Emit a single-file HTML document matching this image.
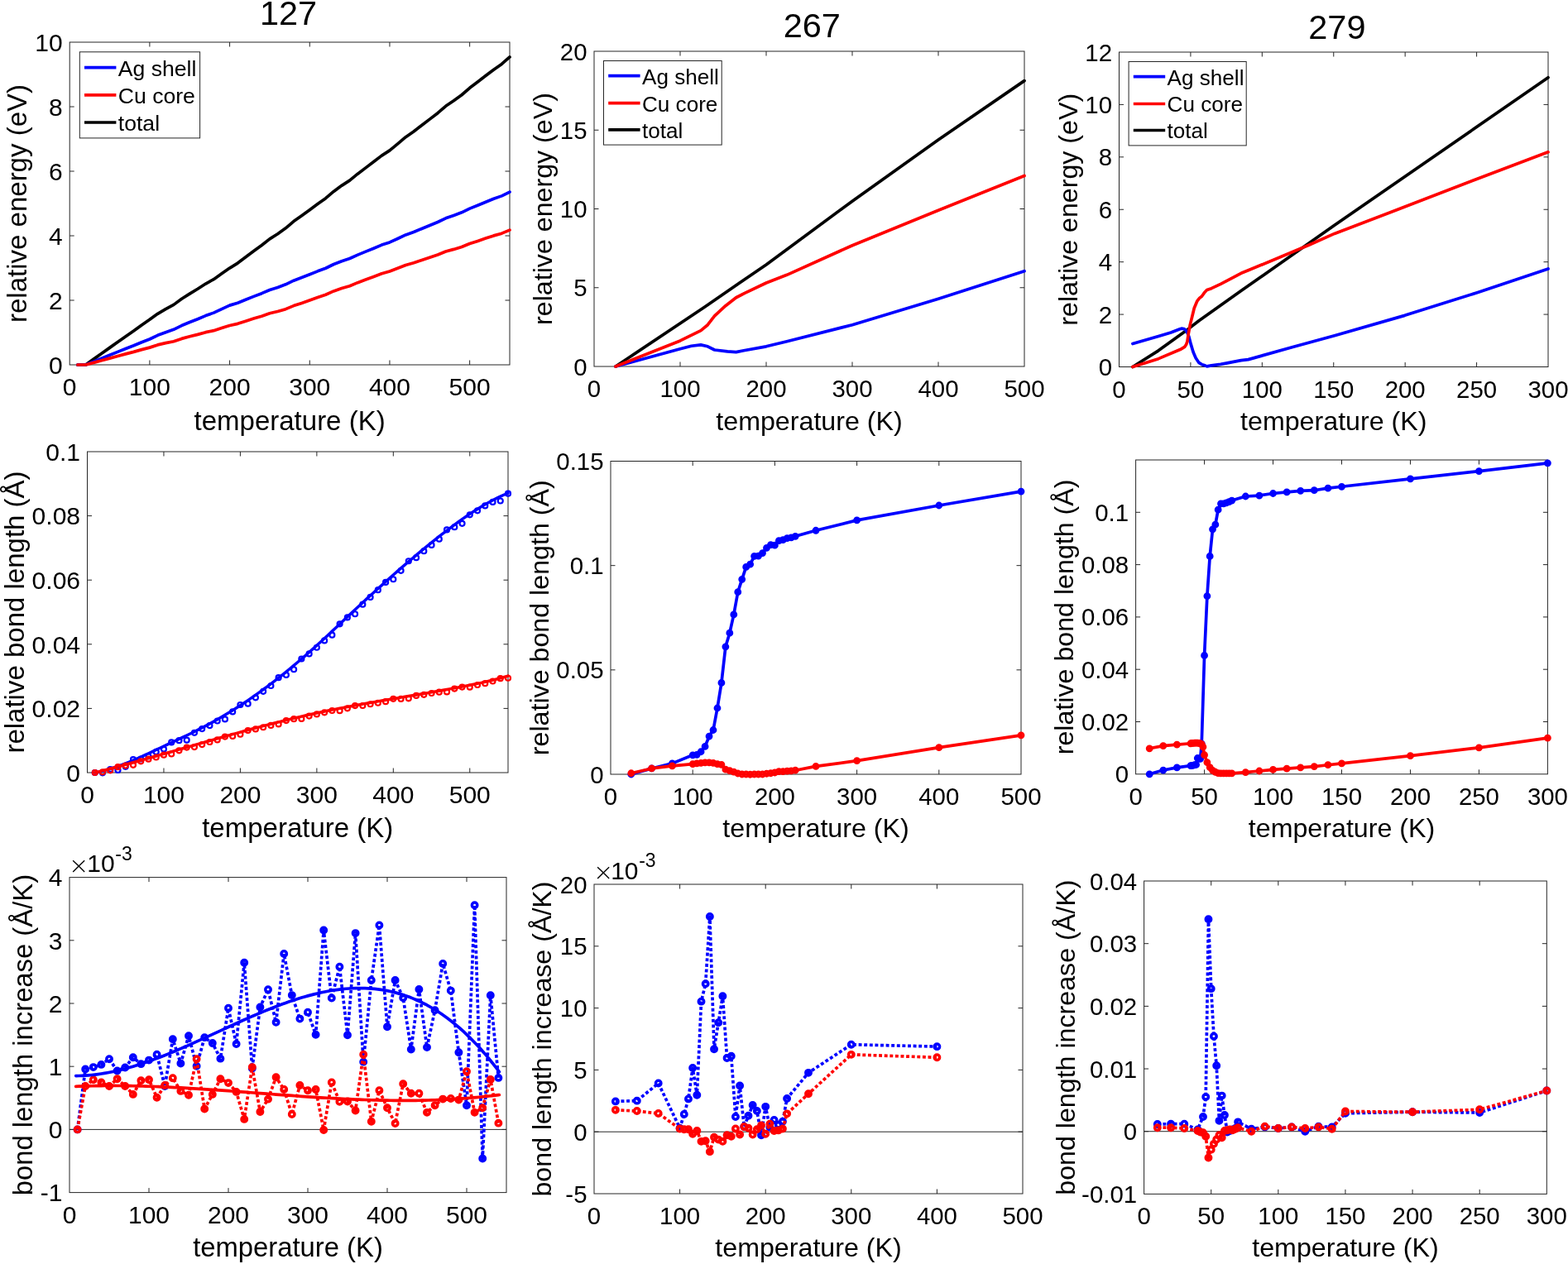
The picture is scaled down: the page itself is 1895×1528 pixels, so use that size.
<!DOCTYPE html><html><head><meta charset="utf-8"><title>Figure</title>
<style>html,body{margin:0;padding:0;background:#fff;}svg{display:block;}text{font-family:'Liberation Sans', Arial, Helvetica, sans-serif;fill:#000;}</style></head><body>
<svg width="1895" height="1528" viewBox="0 0 1895 1528">
<rect width="1895" height="1528" fill="#fff"/>
<defs>
<clipPath id="c1"><rect x="84.2" y="51" width="531.8" height="390"/></clipPath>
<clipPath id="c2"><rect x="718" y="62" width="520" height="381"/></clipPath>
<clipPath id="c3"><rect x="1352.5" y="63" width="518.5" height="380.5"/></clipPath>
<clipPath id="c4"><rect x="105.5" y="546" width="508.5" height="388"/></clipPath>
<clipPath id="c5"><rect x="738" y="557.5" width="496" height="378.5"/></clipPath>
<clipPath id="c6"><rect x="1372.6" y="556" width="497.8" height="379.8"/></clipPath>
<clipPath id="c7"><rect x="84" y="1060.6" width="528" height="381"/></clipPath>
<clipPath id="c8"><rect x="718" y="1069" width="518" height="374"/></clipPath>
<clipPath id="c9"><rect x="1382.6" y="1065" width="486.7" height="378.4"/></clipPath>
</defs>
<path d="M180.89 441V435.5M180.89 51V56.5M277.58 441V435.5M277.58 51V56.5M374.27 441V435.5M374.27 51V56.5M470.96 441V435.5M470.96 51V56.5M567.65 441V435.5M567.65 51V56.5M84.2 363H89.7M616 363H610.5M84.2 285H89.7M616 285H610.5M84.2 207H89.7M616 207H610.5M84.2 129H89.7M616 129H610.5" stroke="#262626" stroke-width="1" fill="none"/>
<rect x="84.2" y="51" width="531.8" height="390" fill="none" stroke="#262626" stroke-width="1"/>
<g font-size="30">
<text x="84.2" y="478.41" text-anchor="middle">0</text>
<text x="180.89" y="478.41" text-anchor="middle">100</text>
<text x="277.58" y="478.41" text-anchor="middle">200</text>
<text x="374.27" y="478.41" text-anchor="middle">300</text>
<text x="470.96" y="478.41" text-anchor="middle">400</text>
<text x="567.65" y="478.41" text-anchor="middle">500</text>
<text x="75.7" y="451.8" text-anchor="end">0</text>
<text x="75.7" y="373.8" text-anchor="end">2</text>
<text x="75.7" y="295.8" text-anchor="end">4</text>
<text x="75.7" y="217.8" text-anchor="end">6</text>
<text x="75.7" y="139.8" text-anchor="end">8</text>
<text x="75.7" y="61.8" text-anchor="end">10</text>
</g>
<text x="350.1" y="519.5" font-size="33" text-anchor="middle">temperature (K)</text>
<text x="32.4" y="246" font-size="33" text-anchor="middle" transform="rotate(-90 32.4 246)">relative energy (eV)</text>
<text x="348.5" y="29.8" font-size="41.5" text-anchor="middle">127</text>
<polyline points="93.87,441 103.54,441 113.21,434.13 122.88,427.25 132.55,420.38 142.21,413.5 151.88,406.66 161.55,400.01 171.22,392.92 180.89,386.27 190.56,379.3 200.23,373.64 209.9,368.38 219.57,361.3 229.24,355.15 238.91,349.25 248.57,343.01 258.24,337.64 267.91,330.78 277.58,324.09 287.25,318.1 296.92,310.83 306.59,303.56 316.26,296.51 325.93,288.84 335.6,282.7 345.27,275.83 354.93,267.58 364.6,260.78 374.27,253.69 383.94,246.48 393.61,239.66 403.28,231.39 412.95,224.33 422.62,218.09 432.29,210.19 441.96,202.89 451.63,195.59 461.29,188.15 470.96,181.92 480.63,173.92 490.3,165.67 499.97,159.04 509.64,151.51 519.31,144.12 528.98,136.68 538.65,128.31 548.32,121.69 557.99,114.73 567.65,106.33 577.32,99.09 586.99,91.55 596.66,84.23 606.33,77.48 616,68.97" fill="none" stroke="#000000" stroke-width="3.7" stroke-linejoin="round" stroke-linecap="round"/>
<polyline points="93.87,441 103.54,441 113.21,437.1 122.88,433.2 132.55,429.3 142.21,425.4 151.88,421.52 161.55,417.79 171.22,413.73 180.89,409.99 190.56,405.34 200.23,401.67 209.9,398.31 219.57,393.57 229.24,389.53 238.91,385.68 248.57,381.58 258.24,378.13 267.91,373.55 277.58,369.11 287.25,366.18 296.92,362.29 306.59,358.39 316.26,354.67 325.93,350.47 335.6,347.43 345.27,343.84 354.93,339.18 364.6,335.58 374.27,331.76 383.94,327.85 393.61,324.23 403.28,319.52 412.95,315.73 422.62,312.54 432.29,308.12 441.96,304.14 451.63,300.17 461.29,296.08 470.96,292.91 480.63,288.5 490.3,283.9 499.97,280.52 509.64,276.47 519.31,272.52 528.98,268.53 538.65,263.85 548.32,260.47 557.99,256.85 567.65,252.14 577.32,248.3 586.99,244.24 596.66,240.34 606.33,236.87 616,232.08" fill="none" stroke="#0000ff" stroke-width="3.7" stroke-linejoin="round" stroke-linecap="round"/>
<polyline points="93.87,441 103.54,441 113.21,438.37 122.88,435.74 132.55,433.1 142.21,430.47 151.88,427.86 161.55,425.4 171.22,422.6 180.89,420.13 190.56,416.91 200.23,414.66 209.9,412.72 219.57,409.4 229.24,406.79 238.91,404.36 248.57,401.68 258.24,399.66 267.91,396.51 277.58,393.49 287.25,391.34 296.92,388.22 306.59,385.11 316.26,382.16 325.93,378.75 335.6,376.49 345.27,373.67 354.93,369.6 364.6,366.39 374.27,362.96 383.94,359.44 393.61,356.21 403.28,351.89 412.95,348.49 422.62,345.69 432.29,341.66 441.96,338.07 451.63,334.49 461.29,330.79 470.96,328.01 480.63,324.33 490.3,320.46 499.97,317.8 509.64,314.48 519.31,311.26 528.98,308 538.65,304.04 548.32,301.4 557.99,298.5 567.65,294.52 577.32,291.4 586.99,288.07 596.66,284.9 606.33,282.16 616,278.1" fill="none" stroke="#ff0000" stroke-width="3.7" stroke-linejoin="round" stroke-linecap="round"/>
<rect x="96.3" y="62.8" width="145.3" height="104.1" fill="#fff" stroke="#262626" stroke-width="1"/>
<line x1="102" y1="81.6" x2="140.4" y2="81.6" stroke="#0000ff" stroke-width="3.7"/>
<text x="142.8" y="91.7" font-size="26.6">Ag shell</text>
<line x1="102" y1="114.8" x2="140.4" y2="114.8" stroke="#ff0000" stroke-width="3.7"/>
<text x="142.8" y="124.9" font-size="26.6">Cu core</text>
<line x1="102" y1="148" x2="140.4" y2="148" stroke="#000000" stroke-width="3.7"/>
<text x="142.8" y="158.1" font-size="26.6">total</text>
<path d="M822 443V437.5M822 62V67.5M926 443V437.5M926 62V67.5M1030 443V437.5M1030 62V67.5M1134 443V437.5M1134 62V67.5M718 347.75H723.5M1238 347.75H1232.5M718 252.5H723.5M1238 252.5H1232.5M718 157.25H723.5M1238 157.25H1232.5" stroke="#262626" stroke-width="1" fill="none"/>
<rect x="718" y="62" width="520" height="381" fill="none" stroke="#262626" stroke-width="1"/>
<g font-size="29.4">
<text x="718" y="480" text-anchor="middle">0</text>
<text x="822" y="480" text-anchor="middle">100</text>
<text x="926" y="480" text-anchor="middle">200</text>
<text x="1030" y="480" text-anchor="middle">300</text>
<text x="1134" y="480" text-anchor="middle">400</text>
<text x="1238" y="480" text-anchor="middle">500</text>
<text x="709.5" y="453.58" text-anchor="end">0</text>
<text x="709.5" y="358.33" text-anchor="end">5</text>
<text x="709.5" y="263.08" text-anchor="end">10</text>
<text x="709.5" y="167.83" text-anchor="end">15</text>
<text x="709.5" y="72.58" text-anchor="end">20</text>
</g>
<text x="978" y="519.6" font-size="32.2" text-anchor="middle">temperature (K)</text>
<text x="667.2" y="252.5" font-size="32.2" text-anchor="middle" transform="rotate(-90 667.2 252.5)">relative energy (eV)</text>
<text x="981.3" y="45" font-size="41.5" text-anchor="middle">267</text>
<polyline points="744,443 852.16,370.8 893.76,342.03 926,319.94 1030,243.17 1134,169.06 1238,97.62" fill="none" stroke="#000000" stroke-width="3.7" stroke-linejoin="round" stroke-linecap="round"/>
<polyline points="744,443 822,421.66 835.52,418.24 846.96,416.9 855.28,418.81 863.6,423 879.2,424.9 889.6,425.66 898.96,423.76 926,418.81 950.96,412.71 1030,392.71 1134,361.28 1238,327.75" fill="none" stroke="#0000ff" stroke-width="3.7" stroke-linejoin="round" stroke-linecap="round"/>
<polyline points="744,443 822,411.95 846.96,399.57 855.28,392.71 863.6,381.85 877.12,369.47 889.6,359.75 900,354.42 926,342.03 950.96,332.32 1030,296.7 1134,254.21 1238,212.5" fill="none" stroke="#ff0000" stroke-width="3.7" stroke-linejoin="round" stroke-linecap="round"/>
<rect x="729.5" y="73.5" width="142.7" height="101.6" fill="#fff" stroke="#262626" stroke-width="1"/>
<line x1="735.2" y1="91.6" x2="773.6" y2="91.6" stroke="#0000ff" stroke-width="3.7"/>
<text x="776" y="101.51" font-size="26.1">Ag shell</text>
<line x1="735.2" y1="124.6" x2="773.6" y2="124.6" stroke="#ff0000" stroke-width="3.7"/>
<text x="776" y="134.51" font-size="26.1">Cu core</text>
<line x1="735.2" y1="156.9" x2="773.6" y2="156.9" stroke="#000000" stroke-width="3.7"/>
<text x="776" y="166.81" font-size="26.1">total</text>
<path d="M1438.92 443.5V438M1438.92 63V68.5M1525.33 443.5V438M1525.33 63V68.5M1611.75 443.5V438M1611.75 63V68.5M1698.17 443.5V438M1698.17 63V68.5M1784.58 443.5V438M1784.58 63V68.5M1352.5 380.08H1358M1871 380.08H1865.5M1352.5 316.67H1358M1871 316.67H1865.5M1352.5 253.25H1358M1871 253.25H1865.5M1352.5 189.83H1358M1871 189.83H1865.5M1352.5 126.42H1358M1871 126.42H1865.5" stroke="#262626" stroke-width="1" fill="none"/>
<rect x="1352.5" y="63" width="518.5" height="380.5" fill="none" stroke="#262626" stroke-width="1"/>
<g font-size="29.4">
<text x="1352.5" y="480.5" text-anchor="middle">0</text>
<text x="1438.92" y="480.5" text-anchor="middle">50</text>
<text x="1525.33" y="480.5" text-anchor="middle">100</text>
<text x="1611.75" y="480.5" text-anchor="middle">150</text>
<text x="1698.17" y="480.5" text-anchor="middle">200</text>
<text x="1784.58" y="480.5" text-anchor="middle">250</text>
<text x="1871" y="480.5" text-anchor="middle">300</text>
<text x="1344" y="454.08" text-anchor="end">0</text>
<text x="1344" y="390.67" text-anchor="end">2</text>
<text x="1344" y="327.25" text-anchor="end">4</text>
<text x="1344" y="263.83" text-anchor="end">6</text>
<text x="1344" y="200.42" text-anchor="end">8</text>
<text x="1344" y="137" text-anchor="end">10</text>
<text x="1344" y="73.58" text-anchor="end">12</text>
</g>
<text x="1611.75" y="519.6" font-size="32.2" text-anchor="middle">temperature (K)</text>
<text x="1302.2" y="253.25" font-size="32.2" text-anchor="middle" transform="rotate(-90 1302.2 253.25)">relative energy (eV)</text>
<text x="1615.9" y="46.9" font-size="41.5" text-anchor="middle">279</text>
<polyline points="1368.92,443.5 1400.03,423.84 1435.46,398.16 1448.94,387.69 1499.93,351.55 1612.79,272.27 1871,93.76" fill="none" stroke="#000000" stroke-width="3.7" stroke-linejoin="round" stroke-linecap="round"/>
<polyline points="1368.92,415.6 1400.03,406.4 1415.07,401.96 1425.95,397.84 1427.86,397.21 1430.97,397.52 1433.04,399.11 1434.6,401.33 1436.84,407.04 1439.09,415.6 1442.03,425.43 1445.14,432.72 1448.94,438.43 1452.57,440.65 1455.34,441.6 1458.62,442.87 1463.98,441.91 1475.21,440.33 1499.93,435.57 1508.57,434.62 1560.59,420.04 1612.79,405.77 1697.65,381.35 1785.27,353.77 1871,324.91" fill="none" stroke="#0000ff" stroke-width="3.7" stroke-linejoin="round" stroke-linecap="round"/>
<polyline points="1368.92,443.5 1400.03,433.67 1426.3,422.57 1431.66,419.4 1433.73,416.23 1434.94,412.74 1436.15,404.18 1438.4,392.13 1440.64,383.25 1443.24,372.47 1446.69,364.23 1449.63,360.42 1452.4,358.2 1455.34,354.08 1458.62,350.59 1463.98,348.69 1475.21,343.3 1499.93,330.3 1508.57,326.81 1582.37,296.06 1612.79,282.42 1697.65,250.08 1785.27,216.15 1871,183.81" fill="none" stroke="#ff0000" stroke-width="3.7" stroke-linejoin="round" stroke-linecap="round"/>
<rect x="1364.1" y="74.5" width="142.1" height="101.4" fill="#fff" stroke="#262626" stroke-width="1"/>
<line x1="1369.8" y1="92.6" x2="1408.2" y2="92.6" stroke="#0000ff" stroke-width="3.7"/>
<text x="1410.6" y="102.51" font-size="26.1">Ag shell</text>
<line x1="1369.8" y1="125.5" x2="1408.2" y2="125.5" stroke="#ff0000" stroke-width="3.7"/>
<text x="1410.6" y="135.41" font-size="26.1">Cu core</text>
<line x1="1369.8" y1="157.5" x2="1408.2" y2="157.5" stroke="#000000" stroke-width="3.7"/>
<text x="1410.6" y="167.41" font-size="26.1">total</text>
<path d="M197.95 934V928.5M197.95 546V551.5M290.41 934V928.5M290.41 546V551.5M382.86 934V928.5M382.86 546V551.5M475.32 934V928.5M475.32 546V551.5M567.77 934V928.5M567.77 546V551.5M105.5 856.4H111M614 856.4H608.5M105.5 778.8H111M614 778.8H608.5M105.5 701.2H111M614 701.2H608.5M105.5 623.6H111M614 623.6H608.5" stroke="#262626" stroke-width="1" fill="none"/>
<rect x="105.5" y="546" width="508.5" height="388" fill="none" stroke="#262626" stroke-width="1"/>
<g font-size="30">
<text x="105.5" y="971.41" text-anchor="middle">0</text>
<text x="197.95" y="971.41" text-anchor="middle">100</text>
<text x="290.41" y="971.41" text-anchor="middle">200</text>
<text x="382.86" y="971.41" text-anchor="middle">300</text>
<text x="475.32" y="971.41" text-anchor="middle">400</text>
<text x="567.77" y="971.41" text-anchor="middle">500</text>
<text x="97" y="944.8" text-anchor="end">0</text>
<text x="97" y="867.2" text-anchor="end">0.02</text>
<text x="97" y="789.6" text-anchor="end">0.04</text>
<text x="97" y="712" text-anchor="end">0.06</text>
<text x="97" y="634.4" text-anchor="end">0.08</text>
<text x="97" y="556.8" text-anchor="end">0.1</text>
</g>
<text x="359.75" y="1011.7" font-size="33" text-anchor="middle">temperature (K)</text>
<text x="29.4" y="740" font-size="33" text-anchor="middle" transform="rotate(-90 29.4 740)">relative bond length (&#197;)</text>
<circle cx="114.75" cy="934" r="3" fill="none" stroke="#0000ff" stroke-width="2.2"/>
<circle cx="123.99" cy="934.31" r="3" fill="none" stroke="#0000ff" stroke-width="2.2"/>
<circle cx="133.24" cy="930.18" r="3" fill="none" stroke="#0000ff" stroke-width="2.2"/>
<circle cx="142.48" cy="930.9" r="3" fill="none" stroke="#0000ff" stroke-width="2.2"/>
<circle cx="151.73" cy="926.86" r="3" fill="none" stroke="#0000ff" stroke-width="2.2"/>
<circle cx="160.97" cy="918.2" r="3" fill="none" stroke="#0000ff" stroke-width="2.2"/>
<circle cx="170.22" cy="917.49" r="3" fill="none" stroke="#0000ff" stroke-width="2.2"/>
<circle cx="179.46" cy="914.25" r="3" fill="none" stroke="#0000ff" stroke-width="2.2"/>
<circle cx="188.71" cy="908.94" r="3" fill="none" stroke="#0000ff" stroke-width="2.2"/>
<circle cx="197.95" cy="905.54" r="3" fill="none" stroke="#0000ff" stroke-width="2.2"/>
<circle cx="207.2" cy="897.43" r="3" fill="none" stroke="#0000ff" stroke-width="2.2"/>
<circle cx="216.45" cy="895.15" r="3" fill="none" stroke="#0000ff" stroke-width="2.2"/>
<circle cx="225.69" cy="894.63" r="3" fill="none" stroke="#0000ff" stroke-width="2.2"/>
<circle cx="234.94" cy="885.83" r="3" fill="none" stroke="#0000ff" stroke-width="2.2"/>
<circle cx="244.18" cy="881.03" r="3" fill="none" stroke="#0000ff" stroke-width="2.2"/>
<circle cx="253.43" cy="877.12" r="3" fill="none" stroke="#0000ff" stroke-width="2.2"/>
<circle cx="262.67" cy="871.49" r="3" fill="none" stroke="#0000ff" stroke-width="2.2"/>
<circle cx="271.92" cy="869.46" r="3" fill="none" stroke="#0000ff" stroke-width="2.2"/>
<circle cx="281.16" cy="860.47" r="3" fill="none" stroke="#0000ff" stroke-width="2.2"/>
<circle cx="290.41" cy="852.02" r="3" fill="none" stroke="#0000ff" stroke-width="2.2"/>
<circle cx="299.65" cy="850.69" r="3" fill="none" stroke="#0000ff" stroke-width="2.2"/>
<circle cx="308.9" cy="843.37" r="3" fill="none" stroke="#0000ff" stroke-width="2.2"/>
<circle cx="318.15" cy="835.81" r="3" fill="none" stroke="#0000ff" stroke-width="2.2"/>
<circle cx="327.39" cy="829" r="3" fill="none" stroke="#0000ff" stroke-width="2.2"/>
<circle cx="336.64" cy="819.15" r="3" fill="none" stroke="#0000ff" stroke-width="2.2"/>
<circle cx="345.88" cy="815.95" r="3" fill="none" stroke="#0000ff" stroke-width="2.2"/>
<circle cx="355.13" cy="809.24" r="3" fill="none" stroke="#0000ff" stroke-width="2.2"/>
<circle cx="364.37" cy="796.48" r="3" fill="none" stroke="#0000ff" stroke-width="2.2"/>
<circle cx="373.62" cy="790.38" r="3" fill="none" stroke="#0000ff" stroke-width="2.2"/>
<circle cx="382.86" cy="782.77" r="3" fill="none" stroke="#0000ff" stroke-width="2.2"/>
<circle cx="392.11" cy="774.44" r="3" fill="none" stroke="#0000ff" stroke-width="2.2"/>
<circle cx="401.35" cy="767.68" r="3" fill="none" stroke="#0000ff" stroke-width="2.2"/>
<circle cx="410.6" cy="754.37" r="3" fill="none" stroke="#0000ff" stroke-width="2.2"/>
<circle cx="419.85" cy="746.44" r="3" fill="none" stroke="#0000ff" stroke-width="2.2"/>
<circle cx="429.09" cy="742.23" r="3" fill="none" stroke="#0000ff" stroke-width="2.2"/>
<circle cx="438.34" cy="730.66" r="3" fill="none" stroke="#0000ff" stroke-width="2.2"/>
<circle cx="447.58" cy="721.88" r="3" fill="none" stroke="#0000ff" stroke-width="2.2"/>
<circle cx="456.83" cy="713.19" r="3" fill="none" stroke="#0000ff" stroke-width="2.2"/>
<circle cx="466.07" cy="703.93" r="3" fill="none" stroke="#0000ff" stroke-width="2.2"/>
<circle cx="475.32" cy="700.27" r="3" fill="none" stroke="#0000ff" stroke-width="2.2"/>
<circle cx="484.56" cy="689.78" r="3" fill="none" stroke="#0000ff" stroke-width="2.2"/>
<circle cx="493.81" cy="678.24" r="3" fill="none" stroke="#0000ff" stroke-width="2.2"/>
<circle cx="503.05" cy="674.13" r="3" fill="none" stroke="#0000ff" stroke-width="2.2"/>
<circle cx="512.3" cy="666.15" r="3" fill="none" stroke="#0000ff" stroke-width="2.2"/>
<circle cx="521.55" cy="658.92" r="3" fill="none" stroke="#0000ff" stroke-width="2.2"/>
<circle cx="530.79" cy="651.63" r="3" fill="none" stroke="#0000ff" stroke-width="2.2"/>
<circle cx="540.04" cy="640.41" r="3" fill="none" stroke="#0000ff" stroke-width="2.2"/>
<circle cx="549.28" cy="637.22" r="3" fill="none" stroke="#0000ff" stroke-width="2.2"/>
<circle cx="558.53" cy="632.83" r="3" fill="none" stroke="#0000ff" stroke-width="2.2"/>
<circle cx="567.77" cy="622.32" r="3" fill="none" stroke="#0000ff" stroke-width="2.2"/>
<circle cx="577.02" cy="617.32" r="3" fill="none" stroke="#0000ff" stroke-width="2.2"/>
<circle cx="586.26" cy="611.42" r="3" fill="none" stroke="#0000ff" stroke-width="2.2"/>
<circle cx="595.51" cy="606.95" r="3" fill="none" stroke="#0000ff" stroke-width="2.2"/>
<circle cx="604.75" cy="605.51" r="3" fill="none" stroke="#0000ff" stroke-width="2.2"/>
<circle cx="614" cy="596.72" r="3" fill="none" stroke="#0000ff" stroke-width="2.2"/>
<polyline points="114.75,934 119.37,933.23 123.99,932.12 128.61,930.87 133.24,929.5 137.86,928 142.48,926.4 147.1,924.7 151.73,922.91 156.35,921.04 160.97,919.09 165.6,917.08 170.22,915.02 174.84,912.92 179.46,910.78 184.09,908.62 188.71,906.44 193.33,904.25 197.95,902.07 202.58,899.89 207.2,897.72 211.82,895.56 216.45,893.38 221.07,891.19 225.69,888.97 230.31,886.74 234.94,884.46 239.56,882.15 244.18,879.79 248.8,877.38 253.43,874.91 258.05,872.37 262.67,869.76 267.3,867.09 271.92,864.36 276.54,861.56 281.16,858.7 285.79,855.77 290.41,852.78 295.03,849.72 299.65,846.61 304.28,843.42 308.9,840.18 313.52,836.88 318.15,833.51 322.77,830.08 327.39,826.6 332.01,823.05 336.64,819.44 341.26,815.77 345.88,812.05 350.5,808.26 355.13,804.42 359.75,800.52 364.37,796.57 369,792.56 373.62,788.5 378.24,784.39 382.86,780.23 387.49,776.02 392.11,771.76 396.73,767.47 401.35,763.15 405.98,758.81 410.6,754.46 415.22,750.1 419.85,745.74 424.47,741.38 429.09,737.04 433.71,732.73 438.34,728.43 442.96,724.16 447.58,719.92 452.2,715.69 456.83,711.5 461.45,707.33 466.07,703.18 470.7,699.07 475.32,694.98 479.94,690.91 484.56,686.88 489.19,682.88 493.81,678.91 498.43,674.97 503.05,671.07 507.68,667.2 512.3,663.37 516.92,659.58 521.55,655.83 526.17,652.11 530.79,648.44 535.41,644.83 540.04,641.27 544.66,637.77 549.28,634.33 553.9,630.97 558.53,627.68 563.15,624.48 567.77,621.36 572.4,618.33 577.02,615.4 581.64,612.57 586.26,609.85 590.89,607.23 595.51,604.74 600.13,602.37 604.75,600.12 609.38,598 614,596.03" fill="none" stroke="#0000ff" stroke-width="3.5" stroke-linejoin="round" stroke-linecap="round"/>
<circle cx="114.75" cy="934" r="3" fill="none" stroke="#ff0000" stroke-width="2.2"/>
<circle cx="123.99" cy="933.3" r="3" fill="none" stroke="#ff0000" stroke-width="2.2"/>
<circle cx="133.24" cy="931.31" r="3" fill="none" stroke="#ff0000" stroke-width="2.2"/>
<circle cx="142.48" cy="927.18" r="3" fill="none" stroke="#ff0000" stroke-width="2.2"/>
<circle cx="151.73" cy="925.6" r="3" fill="none" stroke="#ff0000" stroke-width="2.2"/>
<circle cx="160.97" cy="924.79" r="3" fill="none" stroke="#ff0000" stroke-width="2.2"/>
<circle cx="170.22" cy="920.32" r="3" fill="none" stroke="#ff0000" stroke-width="2.2"/>
<circle cx="179.46" cy="917.67" r="3" fill="none" stroke="#ff0000" stroke-width="2.2"/>
<circle cx="188.71" cy="915.49" r="3" fill="none" stroke="#ff0000" stroke-width="2.2"/>
<circle cx="197.95" cy="912.64" r="3" fill="none" stroke="#ff0000" stroke-width="2.2"/>
<circle cx="207.2" cy="911.5" r="3" fill="none" stroke="#ff0000" stroke-width="2.2"/>
<circle cx="216.45" cy="907.37" r="3" fill="none" stroke="#ff0000" stroke-width="2.2"/>
<circle cx="225.69" cy="903.59" r="3" fill="none" stroke="#ff0000" stroke-width="2.2"/>
<circle cx="234.94" cy="903.08" r="3" fill="none" stroke="#ff0000" stroke-width="2.2"/>
<circle cx="244.18" cy="900.03" r="3" fill="none" stroke="#ff0000" stroke-width="2.2"/>
<circle cx="253.43" cy="896.99" r="3" fill="none" stroke="#ff0000" stroke-width="2.2"/>
<circle cx="262.67" cy="894.41" r="3" fill="none" stroke="#ff0000" stroke-width="2.2"/>
<circle cx="271.92" cy="890.61" r="3" fill="none" stroke="#ff0000" stroke-width="2.2"/>
<circle cx="281.16" cy="889.89" r="3" fill="none" stroke="#ff0000" stroke-width="2.2"/>
<circle cx="290.41" cy="887.73" r="3" fill="none" stroke="#ff0000" stroke-width="2.2"/>
<circle cx="299.65" cy="883.02" r="3" fill="none" stroke="#ff0000" stroke-width="2.2"/>
<circle cx="308.9" cy="881.41" r="3" fill="none" stroke="#ff0000" stroke-width="2.2"/>
<circle cx="318.15" cy="879.25" r="3" fill="none" stroke="#ff0000" stroke-width="2.2"/>
<circle cx="327.39" cy="876.91" r="3" fill="none" stroke="#ff0000" stroke-width="2.2"/>
<circle cx="336.64" cy="875.38" r="3" fill="none" stroke="#ff0000" stroke-width="2.2"/>
<circle cx="345.88" cy="871.03" r="3" fill="none" stroke="#ff0000" stroke-width="2.2"/>
<circle cx="355.13" cy="869.14" r="3" fill="none" stroke="#ff0000" stroke-width="2.2"/>
<circle cx="364.37" cy="868.96" r="3" fill="none" stroke="#ff0000" stroke-width="2.2"/>
<circle cx="373.62" cy="865.54" r="3" fill="none" stroke="#ff0000" stroke-width="2.2"/>
<circle cx="382.86" cy="863.38" r="3" fill="none" stroke="#ff0000" stroke-width="2.2"/>
<circle cx="392.11" cy="861.3" r="3" fill="none" stroke="#ff0000" stroke-width="2.2"/>
<circle cx="401.35" cy="858.99" r="3" fill="none" stroke="#ff0000" stroke-width="2.2"/>
<circle cx="410.6" cy="859.18" r="3" fill="none" stroke="#ff0000" stroke-width="2.2"/>
<circle cx="419.85" cy="856.34" r="3" fill="none" stroke="#ff0000" stroke-width="2.2"/>
<circle cx="429.09" cy="853.04" r="3" fill="none" stroke="#ff0000" stroke-width="2.2"/>
<circle cx="438.34" cy="853.01" r="3" fill="none" stroke="#ff0000" stroke-width="2.2"/>
<circle cx="447.58" cy="851.24" r="3" fill="none" stroke="#ff0000" stroke-width="2.2"/>
<circle cx="456.83" cy="849.77" r="3" fill="none" stroke="#ff0000" stroke-width="2.2"/>
<circle cx="466.07" cy="848.22" r="3" fill="none" stroke="#ff0000" stroke-width="2.2"/>
<circle cx="475.32" cy="844.84" r="3" fill="none" stroke="#ff0000" stroke-width="2.2"/>
<circle cx="484.56" cy="844.94" r="3" fill="none" stroke="#ff0000" stroke-width="2.2"/>
<circle cx="493.81" cy="844.37" r="3" fill="none" stroke="#ff0000" stroke-width="2.2"/>
<circle cx="503.05" cy="840.94" r="3" fill="none" stroke="#ff0000" stroke-width="2.2"/>
<circle cx="512.3" cy="839.78" r="3" fill="none" stroke="#ff0000" stroke-width="2.2"/>
<circle cx="521.55" cy="838.02" r="3" fill="none" stroke="#ff0000" stroke-width="2.2"/>
<circle cx="530.79" cy="836.66" r="3" fill="none" stroke="#ff0000" stroke-width="2.2"/>
<circle cx="540.04" cy="836.41" r="3" fill="none" stroke="#ff0000" stroke-width="2.2"/>
<circle cx="549.28" cy="832.62" r="3" fill="none" stroke="#ff0000" stroke-width="2.2"/>
<circle cx="558.53" cy="830.56" r="3" fill="none" stroke="#ff0000" stroke-width="2.2"/>
<circle cx="567.77" cy="830.64" r="3" fill="none" stroke="#ff0000" stroke-width="2.2"/>
<circle cx="577.02" cy="828.02" r="3" fill="none" stroke="#ff0000" stroke-width="2.2"/>
<circle cx="586.26" cy="826.19" r="3" fill="none" stroke="#ff0000" stroke-width="2.2"/>
<circle cx="595.51" cy="823.5" r="3" fill="none" stroke="#ff0000" stroke-width="2.2"/>
<circle cx="604.75" cy="820.18" r="3" fill="none" stroke="#ff0000" stroke-width="2.2"/>
<circle cx="614" cy="819.77" r="3" fill="none" stroke="#ff0000" stroke-width="2.2"/>
<polyline points="114.75,934 119.37,932.86 123.99,931.67 128.61,930.46 133.24,929.25 137.86,928.03 142.48,926.79 147.1,925.55 151.73,924.29 156.35,923.03 160.97,921.76 165.6,920.48 170.22,919.19 174.84,917.9 179.46,916.6 184.09,915.3 188.71,913.99 193.33,912.67 197.95,911.36 202.58,910.04 207.2,908.71 211.82,907.39 216.45,906.06 221.07,904.73 225.69,903.4 230.31,902.07 234.94,900.75 239.56,899.42 244.18,898.1 248.8,896.77 253.43,895.45 258.05,894.14 262.67,892.83 267.3,891.52 271.92,890.22 276.54,888.92 281.16,887.63 285.79,886.35 290.41,885.07 295.03,883.81 299.65,882.55 304.28,881.3 308.9,880.06 313.52,878.83 318.15,877.61 322.77,876.4 327.39,875.2 332.01,874.02 336.64,872.85 341.26,871.69 345.88,870.55 350.5,869.42 355.13,868.31 359.75,867.22 364.37,866.14 369,865.07 373.62,864.03 378.24,863 382.86,861.99 387.49,861 392.11,860.03 396.73,859.08 401.35,858.14 405.98,857.22 410.6,856.31 415.22,855.42 419.85,854.54 424.47,853.67 429.09,852.82 433.71,851.97 438.34,851.14 442.96,850.31 447.58,849.49 452.2,848.68 456.83,847.88 461.45,847.08 466.07,846.29 470.7,845.5 475.32,844.71 479.94,843.92 484.56,843.14 489.19,842.35 493.81,841.57 498.43,840.78 503.05,839.99 507.68,839.2 512.3,838.41 516.92,837.61 521.55,836.8 526.17,835.99 530.79,835.17 535.41,834.34 540.04,833.5 544.66,832.65 549.28,831.79 553.9,830.92 558.53,830.04 563.15,829.14 567.77,828.23 572.4,827.3 577.02,826.36 581.64,825.38 586.26,824.36 590.89,823.3 595.51,822.19 600.13,821.02 604.75,819.79 609.38,818.48 614,817.1" fill="none" stroke="#ff0000" stroke-width="3.5" stroke-linejoin="round" stroke-linecap="round"/>
<path d="M837.2 936V930.5M837.2 557.5V563M936.4 936V930.5M936.4 557.5V563M1035.6 936V930.5M1035.6 557.5V563M1134.8 936V930.5M1134.8 557.5V563M738 809.83H743.5M1234 809.83H1228.5M738 683.67H743.5M1234 683.67H1228.5" stroke="#262626" stroke-width="1" fill="none"/>
<rect x="738" y="557.5" width="496" height="378.5" fill="none" stroke="#262626" stroke-width="1"/>
<g font-size="29.4">
<text x="738" y="973" text-anchor="middle">0</text>
<text x="837.2" y="973" text-anchor="middle">100</text>
<text x="936.4" y="973" text-anchor="middle">200</text>
<text x="1035.6" y="973" text-anchor="middle">300</text>
<text x="1134.8" y="973" text-anchor="middle">400</text>
<text x="1234" y="973" text-anchor="middle">500</text>
<text x="729.5" y="946.58" text-anchor="end">0</text>
<text x="729.5" y="820.42" text-anchor="end">0.05</text>
<text x="729.5" y="694.25" text-anchor="end">0.1</text>
<text x="729.5" y="568.08" text-anchor="end">0.15</text>
</g>
<text x="986" y="1012.2" font-size="32.2" text-anchor="middle">temperature (K)</text>
<text x="662.6" y="746.75" font-size="32.2" text-anchor="middle" transform="rotate(-90 662.6 746.75)">relative bond length (&#197;)</text>
<polyline points="762.8,936 787.6,928.93 812.4,922.88 837.2,912.79 842.16,912.28 847.12,908.75 852.08,902.44 857.04,890.08 862,882.51 866.96,856.01 871.92,825.48 876.88,781.82 881.84,765.17 886.8,742.97 891.76,715.71 896.72,700.32 901.68,685.43 906.64,682.15 911.6,672.31 916.56,672.06 921.52,668.53 926.48,662.47 931.44,658.69 936.4,659.19 941.36,653.64 946.32,652.63 951.28,650.61 956.24,649.85 961.2,648.34 986,641.27 1035.6,628.91 1134.8,610.99 1234,594.09" fill="none" stroke="#0000ff" stroke-width="3.7" stroke-linejoin="round" stroke-linecap="round"/>
<circle cx="762.8" cy="936" r="2.9" fill="none" stroke="#0000ff" stroke-width="3"/>
<circle cx="787.6" cy="928.93" r="2.9" fill="none" stroke="#0000ff" stroke-width="3"/>
<circle cx="812.4" cy="922.88" r="2.9" fill="none" stroke="#0000ff" stroke-width="3"/>
<circle cx="837.2" cy="912.79" r="2.9" fill="none" stroke="#0000ff" stroke-width="3"/>
<circle cx="842.16" cy="912.28" r="2.9" fill="none" stroke="#0000ff" stroke-width="3"/>
<circle cx="847.12" cy="908.75" r="2.9" fill="none" stroke="#0000ff" stroke-width="3"/>
<circle cx="852.08" cy="902.44" r="2.9" fill="none" stroke="#0000ff" stroke-width="3"/>
<circle cx="857.04" cy="890.08" r="2.9" fill="none" stroke="#0000ff" stroke-width="3"/>
<circle cx="862" cy="882.51" r="2.9" fill="none" stroke="#0000ff" stroke-width="3"/>
<circle cx="866.96" cy="856.01" r="2.9" fill="none" stroke="#0000ff" stroke-width="3"/>
<circle cx="871.92" cy="825.48" r="2.9" fill="none" stroke="#0000ff" stroke-width="3"/>
<circle cx="876.88" cy="781.82" r="2.9" fill="none" stroke="#0000ff" stroke-width="3"/>
<circle cx="881.84" cy="765.17" r="2.9" fill="none" stroke="#0000ff" stroke-width="3"/>
<circle cx="886.8" cy="742.97" r="2.9" fill="none" stroke="#0000ff" stroke-width="3"/>
<circle cx="891.76" cy="715.71" r="2.9" fill="none" stroke="#0000ff" stroke-width="3"/>
<circle cx="896.72" cy="700.32" r="2.9" fill="none" stroke="#0000ff" stroke-width="3"/>
<circle cx="901.68" cy="685.43" r="2.9" fill="none" stroke="#0000ff" stroke-width="3"/>
<circle cx="906.64" cy="682.15" r="2.9" fill="none" stroke="#0000ff" stroke-width="3"/>
<circle cx="911.6" cy="672.31" r="2.9" fill="none" stroke="#0000ff" stroke-width="3"/>
<circle cx="916.56" cy="672.06" r="2.9" fill="none" stroke="#0000ff" stroke-width="3"/>
<circle cx="921.52" cy="668.53" r="2.9" fill="none" stroke="#0000ff" stroke-width="3"/>
<circle cx="926.48" cy="662.47" r="2.9" fill="none" stroke="#0000ff" stroke-width="3"/>
<circle cx="931.44" cy="658.69" r="2.9" fill="none" stroke="#0000ff" stroke-width="3"/>
<circle cx="936.4" cy="659.19" r="2.9" fill="none" stroke="#0000ff" stroke-width="3"/>
<circle cx="941.36" cy="653.64" r="2.9" fill="none" stroke="#0000ff" stroke-width="3"/>
<circle cx="946.32" cy="652.63" r="2.9" fill="none" stroke="#0000ff" stroke-width="3"/>
<circle cx="951.28" cy="650.61" r="2.9" fill="none" stroke="#0000ff" stroke-width="3"/>
<circle cx="956.24" cy="649.85" r="2.9" fill="none" stroke="#0000ff" stroke-width="3"/>
<circle cx="961.2" cy="648.34" r="2.9" fill="none" stroke="#0000ff" stroke-width="3"/>
<circle cx="986" cy="641.27" r="2.9" fill="none" stroke="#0000ff" stroke-width="3"/>
<circle cx="1035.6" cy="628.91" r="2.9" fill="none" stroke="#0000ff" stroke-width="3"/>
<circle cx="1134.8" cy="610.99" r="2.9" fill="none" stroke="#0000ff" stroke-width="3"/>
<circle cx="1234" cy="594.09" r="2.9" fill="none" stroke="#0000ff" stroke-width="3"/>
<polyline points="762.8,934.74 787.6,928.93 812.4,925.91 837.2,923.64 842.16,922.88 847.12,922.37 852.08,921.87 857.04,921.87 862,922.37 866.96,923.64 871.92,924.39 876.88,930.2 881.84,931.71 886.8,933.22 891.76,934.99 896.72,936 901.68,936 906.64,936.25 911.6,936 916.56,936 921.52,936 926.48,935.24 931.44,934.74 936.4,933.98 941.36,932.72 946.32,932.72 951.28,932.22 956.24,931.96 961.2,931.21 986,926.41 1035.6,919.6 1134.8,903.7 1234,888.81" fill="none" stroke="#ff0000" stroke-width="3.7" stroke-linejoin="round" stroke-linecap="round"/>
<circle cx="762.8" cy="934.74" r="2.9" fill="none" stroke="#ff0000" stroke-width="3"/>
<circle cx="787.6" cy="928.93" r="2.9" fill="none" stroke="#ff0000" stroke-width="3"/>
<circle cx="812.4" cy="925.91" r="2.9" fill="none" stroke="#ff0000" stroke-width="3"/>
<circle cx="837.2" cy="923.64" r="2.9" fill="none" stroke="#ff0000" stroke-width="3"/>
<circle cx="842.16" cy="922.88" r="2.9" fill="none" stroke="#ff0000" stroke-width="3"/>
<circle cx="847.12" cy="922.37" r="2.9" fill="none" stroke="#ff0000" stroke-width="3"/>
<circle cx="852.08" cy="921.87" r="2.9" fill="none" stroke="#ff0000" stroke-width="3"/>
<circle cx="857.04" cy="921.87" r="2.9" fill="none" stroke="#ff0000" stroke-width="3"/>
<circle cx="862" cy="922.37" r="2.9" fill="none" stroke="#ff0000" stroke-width="3"/>
<circle cx="866.96" cy="923.64" r="2.9" fill="none" stroke="#ff0000" stroke-width="3"/>
<circle cx="871.92" cy="924.39" r="2.9" fill="none" stroke="#ff0000" stroke-width="3"/>
<circle cx="876.88" cy="930.2" r="2.9" fill="none" stroke="#ff0000" stroke-width="3"/>
<circle cx="881.84" cy="931.71" r="2.9" fill="none" stroke="#ff0000" stroke-width="3"/>
<circle cx="886.8" cy="933.22" r="2.9" fill="none" stroke="#ff0000" stroke-width="3"/>
<circle cx="891.76" cy="934.99" r="2.9" fill="none" stroke="#ff0000" stroke-width="3"/>
<circle cx="896.72" cy="936" r="2.9" fill="none" stroke="#ff0000" stroke-width="3"/>
<circle cx="901.68" cy="936" r="2.9" fill="none" stroke="#ff0000" stroke-width="3"/>
<circle cx="906.64" cy="936.25" r="2.9" fill="none" stroke="#ff0000" stroke-width="3"/>
<circle cx="911.6" cy="936" r="2.9" fill="none" stroke="#ff0000" stroke-width="3"/>
<circle cx="916.56" cy="936" r="2.9" fill="none" stroke="#ff0000" stroke-width="3"/>
<circle cx="921.52" cy="936" r="2.9" fill="none" stroke="#ff0000" stroke-width="3"/>
<circle cx="926.48" cy="935.24" r="2.9" fill="none" stroke="#ff0000" stroke-width="3"/>
<circle cx="931.44" cy="934.74" r="2.9" fill="none" stroke="#ff0000" stroke-width="3"/>
<circle cx="936.4" cy="933.98" r="2.9" fill="none" stroke="#ff0000" stroke-width="3"/>
<circle cx="941.36" cy="932.72" r="2.9" fill="none" stroke="#ff0000" stroke-width="3"/>
<circle cx="946.32" cy="932.72" r="2.9" fill="none" stroke="#ff0000" stroke-width="3"/>
<circle cx="951.28" cy="932.22" r="2.9" fill="none" stroke="#ff0000" stroke-width="3"/>
<circle cx="956.24" cy="931.96" r="2.9" fill="none" stroke="#ff0000" stroke-width="3"/>
<circle cx="961.2" cy="931.21" r="2.9" fill="none" stroke="#ff0000" stroke-width="3"/>
<circle cx="986" cy="926.41" r="2.9" fill="none" stroke="#ff0000" stroke-width="3"/>
<circle cx="1035.6" cy="919.6" r="2.9" fill="none" stroke="#ff0000" stroke-width="3"/>
<circle cx="1134.8" cy="903.7" r="2.9" fill="none" stroke="#ff0000" stroke-width="3"/>
<circle cx="1234" cy="888.81" r="2.9" fill="none" stroke="#ff0000" stroke-width="3"/>
<path d="M1455.57 935.8V930.3M1455.57 556V561.5M1538.53 935.8V930.3M1538.53 556V561.5M1621.5 935.8V930.3M1621.5 556V561.5M1704.47 935.8V930.3M1704.47 556V561.5M1787.43 935.8V930.3M1787.43 556V561.5M1372.6 872.5H1378.1M1870.4 872.5H1864.9M1372.6 809.2H1378.1M1870.4 809.2H1864.9M1372.6 745.9H1378.1M1870.4 745.9H1864.9M1372.6 682.6H1378.1M1870.4 682.6H1864.9M1372.6 619.3H1378.1M1870.4 619.3H1864.9" stroke="#262626" stroke-width="1" fill="none"/>
<rect x="1372.6" y="556" width="497.8" height="379.8" fill="none" stroke="#262626" stroke-width="1"/>
<g font-size="29.4">
<text x="1372.6" y="972.8" text-anchor="middle">0</text>
<text x="1455.57" y="972.8" text-anchor="middle">50</text>
<text x="1538.53" y="972.8" text-anchor="middle">100</text>
<text x="1621.5" y="972.8" text-anchor="middle">150</text>
<text x="1704.47" y="972.8" text-anchor="middle">200</text>
<text x="1787.43" y="972.8" text-anchor="middle">250</text>
<text x="1870.4" y="972.8" text-anchor="middle">300</text>
<text x="1364.1" y="946.38" text-anchor="end">0</text>
<text x="1364.1" y="883.08" text-anchor="end">0.02</text>
<text x="1364.1" y="819.78" text-anchor="end">0.04</text>
<text x="1364.1" y="756.48" text-anchor="end">0.06</text>
<text x="1364.1" y="693.18" text-anchor="end">0.08</text>
<text x="1364.1" y="629.88" text-anchor="end">0.1</text>
</g>
<text x="1621.5" y="1012.2" font-size="32.2" text-anchor="middle">temperature (K)</text>
<text x="1297.4" y="745.9" font-size="32.2" text-anchor="middle" transform="rotate(-90 1297.4 745.9)">relative bond length (&#197;)</text>
<polyline points="1389.19,935.8 1405.79,931.05 1422.38,927.89 1438.97,925.67 1440.63,925.36 1442.29,925.04 1443.95,924.72 1445.61,924.41 1447.27,916.49 1448.93,917.13 1450.59,917.44 1452.25,899.09 1455.57,792.43 1458.89,720.58 1462.2,672.47 1465.52,639.87 1468.84,634.18 1472.16,616.13 1475.48,608.86 1478.8,608.86 1482.12,607.91 1485.43,606.64 1488.75,605.06 1505.35,599.99 1521.94,599.04 1538.53,596.51 1555.13,594.93 1571.72,593.35 1588.31,592.71 1604.91,590.18 1621.5,588.28 1704.47,578.79 1787.43,569.61 1870.4,559.8" fill="none" stroke="#0000ff" stroke-width="3.7" stroke-linejoin="round" stroke-linecap="round"/>
<circle cx="1389.19" cy="935.8" r="2.9" fill="none" stroke="#0000ff" stroke-width="3"/>
<circle cx="1405.79" cy="931.05" r="2.9" fill="none" stroke="#0000ff" stroke-width="3"/>
<circle cx="1422.38" cy="927.89" r="2.9" fill="none" stroke="#0000ff" stroke-width="3"/>
<circle cx="1438.97" cy="925.67" r="2.9" fill="none" stroke="#0000ff" stroke-width="3"/>
<circle cx="1440.63" cy="925.36" r="2.9" fill="none" stroke="#0000ff" stroke-width="3"/>
<circle cx="1442.29" cy="925.04" r="2.9" fill="none" stroke="#0000ff" stroke-width="3"/>
<circle cx="1443.95" cy="924.72" r="2.9" fill="none" stroke="#0000ff" stroke-width="3"/>
<circle cx="1445.61" cy="924.41" r="2.9" fill="none" stroke="#0000ff" stroke-width="3"/>
<circle cx="1447.27" cy="916.49" r="2.9" fill="none" stroke="#0000ff" stroke-width="3"/>
<circle cx="1448.93" cy="917.13" r="2.9" fill="none" stroke="#0000ff" stroke-width="3"/>
<circle cx="1450.59" cy="917.44" r="2.9" fill="none" stroke="#0000ff" stroke-width="3"/>
<circle cx="1452.25" cy="899.09" r="2.9" fill="none" stroke="#0000ff" stroke-width="3"/>
<circle cx="1455.57" cy="792.43" r="2.9" fill="none" stroke="#0000ff" stroke-width="3"/>
<circle cx="1458.89" cy="720.58" r="2.9" fill="none" stroke="#0000ff" stroke-width="3"/>
<circle cx="1462.2" cy="672.47" r="2.9" fill="none" stroke="#0000ff" stroke-width="3"/>
<circle cx="1465.52" cy="639.87" r="2.9" fill="none" stroke="#0000ff" stroke-width="3"/>
<circle cx="1468.84" cy="634.18" r="2.9" fill="none" stroke="#0000ff" stroke-width="3"/>
<circle cx="1472.16" cy="616.13" r="2.9" fill="none" stroke="#0000ff" stroke-width="3"/>
<circle cx="1475.48" cy="608.86" r="2.9" fill="none" stroke="#0000ff" stroke-width="3"/>
<circle cx="1478.8" cy="608.86" r="2.9" fill="none" stroke="#0000ff" stroke-width="3"/>
<circle cx="1482.12" cy="607.91" r="2.9" fill="none" stroke="#0000ff" stroke-width="3"/>
<circle cx="1485.43" cy="606.64" r="2.9" fill="none" stroke="#0000ff" stroke-width="3"/>
<circle cx="1488.75" cy="605.06" r="2.9" fill="none" stroke="#0000ff" stroke-width="3"/>
<circle cx="1505.35" cy="599.99" r="2.9" fill="none" stroke="#0000ff" stroke-width="3"/>
<circle cx="1521.94" cy="599.04" r="2.9" fill="none" stroke="#0000ff" stroke-width="3"/>
<circle cx="1538.53" cy="596.51" r="2.9" fill="none" stroke="#0000ff" stroke-width="3"/>
<circle cx="1555.13" cy="594.93" r="2.9" fill="none" stroke="#0000ff" stroke-width="3"/>
<circle cx="1571.72" cy="593.35" r="2.9" fill="none" stroke="#0000ff" stroke-width="3"/>
<circle cx="1588.31" cy="592.71" r="2.9" fill="none" stroke="#0000ff" stroke-width="3"/>
<circle cx="1604.91" cy="590.18" r="2.9" fill="none" stroke="#0000ff" stroke-width="3"/>
<circle cx="1621.5" cy="588.28" r="2.9" fill="none" stroke="#0000ff" stroke-width="3"/>
<circle cx="1704.47" cy="578.79" r="2.9" fill="none" stroke="#0000ff" stroke-width="3"/>
<circle cx="1787.43" cy="569.61" r="2.9" fill="none" stroke="#0000ff" stroke-width="3"/>
<circle cx="1870.4" cy="559.8" r="2.9" fill="none" stroke="#0000ff" stroke-width="3"/>
<polyline points="1389.19,904.78 1405.79,901.62 1422.38,900.04 1438.97,898.77 1440.63,898.45 1442.29,898.45 1443.95,898.14 1445.61,898.14 1447.27,898.14 1448.93,898.45 1450.59,898.77 1452.25,899.72 1453.91,902.88 1455.57,912.7 1458.89,921.56 1462.2,927.57 1465.52,931.37 1468.84,933.27 1472.16,934.53 1475.48,934.85 1478.8,934.85 1482.12,934.85 1485.43,934.85 1488.75,934.85 1505.35,933.58 1521.94,932 1538.53,930.42 1555.13,929.15 1571.72,927.89 1588.31,926.62 1604.91,924.72 1621.5,922.82 1704.47,913.64 1787.43,903.83 1870.4,892.12" fill="none" stroke="#ff0000" stroke-width="3.7" stroke-linejoin="round" stroke-linecap="round"/>
<circle cx="1389.19" cy="904.78" r="2.9" fill="none" stroke="#ff0000" stroke-width="3"/>
<circle cx="1405.79" cy="901.62" r="2.9" fill="none" stroke="#ff0000" stroke-width="3"/>
<circle cx="1422.38" cy="900.04" r="2.9" fill="none" stroke="#ff0000" stroke-width="3"/>
<circle cx="1438.97" cy="898.77" r="2.9" fill="none" stroke="#ff0000" stroke-width="3"/>
<circle cx="1440.63" cy="898.45" r="2.9" fill="none" stroke="#ff0000" stroke-width="3"/>
<circle cx="1442.29" cy="898.45" r="2.9" fill="none" stroke="#ff0000" stroke-width="3"/>
<circle cx="1443.95" cy="898.14" r="2.9" fill="none" stroke="#ff0000" stroke-width="3"/>
<circle cx="1445.61" cy="898.14" r="2.9" fill="none" stroke="#ff0000" stroke-width="3"/>
<circle cx="1447.27" cy="898.14" r="2.9" fill="none" stroke="#ff0000" stroke-width="3"/>
<circle cx="1448.93" cy="898.45" r="2.9" fill="none" stroke="#ff0000" stroke-width="3"/>
<circle cx="1450.59" cy="898.77" r="2.9" fill="none" stroke="#ff0000" stroke-width="3"/>
<circle cx="1452.25" cy="899.72" r="2.9" fill="none" stroke="#ff0000" stroke-width="3"/>
<circle cx="1453.91" cy="902.88" r="2.9" fill="none" stroke="#ff0000" stroke-width="3"/>
<circle cx="1455.57" cy="912.7" r="2.9" fill="none" stroke="#ff0000" stroke-width="3"/>
<circle cx="1458.89" cy="921.56" r="2.9" fill="none" stroke="#ff0000" stroke-width="3"/>
<circle cx="1462.2" cy="927.57" r="2.9" fill="none" stroke="#ff0000" stroke-width="3"/>
<circle cx="1465.52" cy="931.37" r="2.9" fill="none" stroke="#ff0000" stroke-width="3"/>
<circle cx="1468.84" cy="933.27" r="2.9" fill="none" stroke="#ff0000" stroke-width="3"/>
<circle cx="1472.16" cy="934.53" r="2.9" fill="none" stroke="#ff0000" stroke-width="3"/>
<circle cx="1475.48" cy="934.85" r="2.9" fill="none" stroke="#ff0000" stroke-width="3"/>
<circle cx="1478.8" cy="934.85" r="2.9" fill="none" stroke="#ff0000" stroke-width="3"/>
<circle cx="1482.12" cy="934.85" r="2.9" fill="none" stroke="#ff0000" stroke-width="3"/>
<circle cx="1485.43" cy="934.85" r="2.9" fill="none" stroke="#ff0000" stroke-width="3"/>
<circle cx="1488.75" cy="934.85" r="2.9" fill="none" stroke="#ff0000" stroke-width="3"/>
<circle cx="1505.35" cy="933.58" r="2.9" fill="none" stroke="#ff0000" stroke-width="3"/>
<circle cx="1521.94" cy="932" r="2.9" fill="none" stroke="#ff0000" stroke-width="3"/>
<circle cx="1538.53" cy="930.42" r="2.9" fill="none" stroke="#ff0000" stroke-width="3"/>
<circle cx="1555.13" cy="929.15" r="2.9" fill="none" stroke="#ff0000" stroke-width="3"/>
<circle cx="1571.72" cy="927.89" r="2.9" fill="none" stroke="#ff0000" stroke-width="3"/>
<circle cx="1588.31" cy="926.62" r="2.9" fill="none" stroke="#ff0000" stroke-width="3"/>
<circle cx="1604.91" cy="924.72" r="2.9" fill="none" stroke="#ff0000" stroke-width="3"/>
<circle cx="1621.5" cy="922.82" r="2.9" fill="none" stroke="#ff0000" stroke-width="3"/>
<circle cx="1704.47" cy="913.64" r="2.9" fill="none" stroke="#ff0000" stroke-width="3"/>
<circle cx="1787.43" cy="903.83" r="2.9" fill="none" stroke="#ff0000" stroke-width="3"/>
<circle cx="1870.4" cy="892.12" r="2.9" fill="none" stroke="#ff0000" stroke-width="3"/>
<path d="M180 1441.6V1436.1M180 1060.6V1066.1M276 1441.6V1436.1M276 1060.6V1066.1M372 1441.6V1436.1M372 1060.6V1066.1M468 1441.6V1436.1M468 1060.6V1066.1M564 1441.6V1436.1M564 1060.6V1066.1M84 1365.4H89.5M612 1365.4H606.5M84 1289.2H89.5M612 1289.2H606.5M84 1213H89.5M612 1213H606.5M84 1136.8H89.5M612 1136.8H606.5" stroke="#262626" stroke-width="1" fill="none"/>
<rect x="84" y="1060.6" width="528" height="381" fill="none" stroke="#262626" stroke-width="1"/>
<g font-size="30">
<text x="84" y="1479.01" text-anchor="middle">0</text>
<text x="180" y="1479.01" text-anchor="middle">100</text>
<text x="276" y="1479.01" text-anchor="middle">200</text>
<text x="372" y="1479.01" text-anchor="middle">300</text>
<text x="468" y="1479.01" text-anchor="middle">400</text>
<text x="564" y="1479.01" text-anchor="middle">500</text>
<text x="75.5" y="1452.4" text-anchor="end">-1</text>
<text x="75.5" y="1376.2" text-anchor="end">0</text>
<text x="75.5" y="1300" text-anchor="end">1</text>
<text x="75.5" y="1223.8" text-anchor="end">2</text>
<text x="75.5" y="1147.6" text-anchor="end">3</text>
<text x="75.5" y="1071.4" text-anchor="end">4</text>
</g>
<text x="348" y="1519.3" font-size="32.8" text-anchor="middle">temperature (K)</text>
<text x="38.6" y="1251.1" font-size="32.8" text-anchor="middle" transform="rotate(-90 38.6 1251.1)">bond length increase (&#197;/K)</text>
<line x1="84" y1="1365.4" x2="612" y2="1365.4" stroke="#262626" stroke-width="1"/>
<polyline points="93.6,1365.4 103.2,1292.4 112.8,1290.11 122.4,1286.91 132,1280.21 141.6,1294.38 151.2,1290.5 160.8,1278.3 170.4,1286.15 180,1281.58 189.6,1274.72 199.2,1312.97 208.8,1256.13 218.4,1285.54 228,1252.17 237.6,1288.82 247.2,1254.15 256.8,1261.01 266.4,1279.67 276,1218.79 285.6,1262 295.2,1163.77 304.8,1291.41 314.4,1217.42 324,1196.24 333.6,1235.86 343.2,1153.03 352.8,1203.09 362.4,1231.59 372,1223.67 381.6,1250.8 391.2,1124.53 400.8,1206.6 410.4,1168.73 420,1251.18 429.6,1128.11 439.2,1283.64 448.8,1185.03 458.4,1118.44 468,1241.19 477.6,1185.03 487.2,1206.14 496.8,1268.47 506.4,1195.93 516,1266.11 525.6,1221.31 535.2,1164.92 544.8,1197.61 554.4,1272.21 564,1336.29 573.6,1094.2 583.2,1400.53 592.8,1203.17 602.4,1302.92" fill="none" stroke="#0000ff" stroke-width="3.7" stroke-linejoin="round" stroke-linecap="butt" stroke-dasharray="3.9 2.7"/>
<circle cx="93.6" cy="1365.4" r="3.2" fill="none" stroke="#0000ff" stroke-width="3.5"/>
<circle cx="103.2" cy="1292.4" r="3.2" fill="none" stroke="#0000ff" stroke-width="3.5"/>
<circle cx="112.8" cy="1290.11" r="3.2" fill="none" stroke="#0000ff" stroke-width="3.5"/>
<circle cx="122.4" cy="1286.91" r="3.2" fill="none" stroke="#0000ff" stroke-width="3.5"/>
<circle cx="132" cy="1280.21" r="3.2" fill="none" stroke="#0000ff" stroke-width="3.5"/>
<circle cx="141.6" cy="1294.38" r="3.2" fill="none" stroke="#0000ff" stroke-width="3.5"/>
<circle cx="151.2" cy="1290.5" r="3.2" fill="none" stroke="#0000ff" stroke-width="3.5"/>
<circle cx="160.8" cy="1278.3" r="3.2" fill="none" stroke="#0000ff" stroke-width="3.5"/>
<circle cx="170.4" cy="1286.15" r="3.2" fill="none" stroke="#0000ff" stroke-width="3.5"/>
<circle cx="180" cy="1281.58" r="3.2" fill="none" stroke="#0000ff" stroke-width="3.5"/>
<circle cx="189.6" cy="1274.72" r="3.2" fill="none" stroke="#0000ff" stroke-width="3.5"/>
<circle cx="199.2" cy="1312.97" r="3.2" fill="none" stroke="#0000ff" stroke-width="3.5"/>
<circle cx="208.8" cy="1256.13" r="3.2" fill="none" stroke="#0000ff" stroke-width="3.5"/>
<circle cx="218.4" cy="1285.54" r="3.2" fill="none" stroke="#0000ff" stroke-width="3.5"/>
<circle cx="228" cy="1252.17" r="3.2" fill="none" stroke="#0000ff" stroke-width="3.5"/>
<circle cx="237.6" cy="1288.82" r="3.2" fill="none" stroke="#0000ff" stroke-width="3.5"/>
<circle cx="247.2" cy="1254.15" r="3.2" fill="none" stroke="#0000ff" stroke-width="3.5"/>
<circle cx="256.8" cy="1261.01" r="3.2" fill="none" stroke="#0000ff" stroke-width="3.5"/>
<circle cx="266.4" cy="1279.67" r="3.2" fill="none" stroke="#0000ff" stroke-width="3.5"/>
<circle cx="276" cy="1218.79" r="3.2" fill="none" stroke="#0000ff" stroke-width="3.5"/>
<circle cx="285.6" cy="1262" r="3.2" fill="none" stroke="#0000ff" stroke-width="3.5"/>
<circle cx="295.2" cy="1163.77" r="3.2" fill="none" stroke="#0000ff" stroke-width="3.5"/>
<circle cx="304.8" cy="1291.41" r="3.2" fill="none" stroke="#0000ff" stroke-width="3.5"/>
<circle cx="314.4" cy="1217.42" r="3.2" fill="none" stroke="#0000ff" stroke-width="3.5"/>
<circle cx="324" cy="1196.24" r="3.2" fill="none" stroke="#0000ff" stroke-width="3.5"/>
<circle cx="333.6" cy="1235.86" r="3.2" fill="none" stroke="#0000ff" stroke-width="3.5"/>
<circle cx="343.2" cy="1153.03" r="3.2" fill="none" stroke="#0000ff" stroke-width="3.5"/>
<circle cx="352.8" cy="1203.09" r="3.2" fill="none" stroke="#0000ff" stroke-width="3.5"/>
<circle cx="362.4" cy="1231.59" r="3.2" fill="none" stroke="#0000ff" stroke-width="3.5"/>
<circle cx="372" cy="1223.67" r="3.2" fill="none" stroke="#0000ff" stroke-width="3.5"/>
<circle cx="381.6" cy="1250.8" r="3.2" fill="none" stroke="#0000ff" stroke-width="3.5"/>
<circle cx="391.2" cy="1124.53" r="3.2" fill="none" stroke="#0000ff" stroke-width="3.5"/>
<circle cx="400.8" cy="1206.6" r="3.2" fill="none" stroke="#0000ff" stroke-width="3.5"/>
<circle cx="410.4" cy="1168.73" r="3.2" fill="none" stroke="#0000ff" stroke-width="3.5"/>
<circle cx="420" cy="1251.18" r="3.2" fill="none" stroke="#0000ff" stroke-width="3.5"/>
<circle cx="429.6" cy="1128.11" r="3.2" fill="none" stroke="#0000ff" stroke-width="3.5"/>
<circle cx="439.2" cy="1283.64" r="3.2" fill="none" stroke="#0000ff" stroke-width="3.5"/>
<circle cx="448.8" cy="1185.03" r="3.2" fill="none" stroke="#0000ff" stroke-width="3.5"/>
<circle cx="458.4" cy="1118.44" r="3.2" fill="none" stroke="#0000ff" stroke-width="3.5"/>
<circle cx="468" cy="1241.19" r="3.2" fill="none" stroke="#0000ff" stroke-width="3.5"/>
<circle cx="477.6" cy="1185.03" r="3.2" fill="none" stroke="#0000ff" stroke-width="3.5"/>
<circle cx="487.2" cy="1206.14" r="3.2" fill="none" stroke="#0000ff" stroke-width="3.5"/>
<circle cx="496.8" cy="1268.47" r="3.2" fill="none" stroke="#0000ff" stroke-width="3.5"/>
<circle cx="506.4" cy="1195.93" r="3.2" fill="none" stroke="#0000ff" stroke-width="3.5"/>
<circle cx="516" cy="1266.11" r="3.2" fill="none" stroke="#0000ff" stroke-width="3.5"/>
<circle cx="525.6" cy="1221.31" r="3.2" fill="none" stroke="#0000ff" stroke-width="3.5"/>
<circle cx="535.2" cy="1164.92" r="3.2" fill="none" stroke="#0000ff" stroke-width="3.5"/>
<circle cx="544.8" cy="1197.61" r="3.2" fill="none" stroke="#0000ff" stroke-width="3.5"/>
<circle cx="554.4" cy="1272.21" r="3.2" fill="none" stroke="#0000ff" stroke-width="3.5"/>
<circle cx="564" cy="1336.29" r="3.2" fill="none" stroke="#0000ff" stroke-width="3.5"/>
<circle cx="573.6" cy="1094.2" r="3.2" fill="none" stroke="#0000ff" stroke-width="3.5"/>
<circle cx="583.2" cy="1400.53" r="3.2" fill="none" stroke="#0000ff" stroke-width="3.5"/>
<circle cx="592.8" cy="1203.17" r="3.2" fill="none" stroke="#0000ff" stroke-width="3.5"/>
<circle cx="602.4" cy="1302.92" r="3.2" fill="none" stroke="#0000ff" stroke-width="3.5"/>
<polyline points="93.6,1365.4 103.2,1312.97 112.8,1305.2 122.4,1308.48 132,1312.97 141.6,1304.21 151.2,1312.97 160.8,1322.88 170.4,1306.19 180,1305.2 189.6,1326.77 199.2,1312.06 208.8,1303.22 218.4,1318.92 228,1323.79 237.6,1280.21 247.2,1340.48 256.8,1322.88 266.4,1304.21 276,1309.09 285.6,1319.91 295.2,1352.9 304.8,1290.11 314.4,1344.06 324,1328.67 333.6,1302.23 343.2,1317.01 352.8,1347.04 362.4,1312.06 372,1318.31 381.6,1317.01 391.2,1366.01 400.8,1308.48 410.4,1331.72 420,1331.49 429.6,1342.54 439.2,1274.72 448.8,1355.72 458.4,1318.23 468,1339.19 477.6,1358.08 487.2,1310.23 496.8,1321.81 506.4,1321.81 516,1344.83 525.6,1336.29 535.2,1328.6 544.8,1328.06 554.4,1329.59 564,1295.22 573.6,1344.83 583.2,1339.19 592.8,1304.9 602.4,1357.63" fill="none" stroke="#ff0000" stroke-width="3.7" stroke-linejoin="round" stroke-linecap="butt" stroke-dasharray="3.9 2.7"/>
<circle cx="93.6" cy="1365.4" r="3.2" fill="none" stroke="#ff0000" stroke-width="3.5"/>
<circle cx="103.2" cy="1312.97" r="3.2" fill="none" stroke="#ff0000" stroke-width="3.5"/>
<circle cx="112.8" cy="1305.2" r="3.2" fill="none" stroke="#ff0000" stroke-width="3.5"/>
<circle cx="122.4" cy="1308.48" r="3.2" fill="none" stroke="#ff0000" stroke-width="3.5"/>
<circle cx="132" cy="1312.97" r="3.2" fill="none" stroke="#ff0000" stroke-width="3.5"/>
<circle cx="141.6" cy="1304.21" r="3.2" fill="none" stroke="#ff0000" stroke-width="3.5"/>
<circle cx="151.2" cy="1312.97" r="3.2" fill="none" stroke="#ff0000" stroke-width="3.5"/>
<circle cx="160.8" cy="1322.88" r="3.2" fill="none" stroke="#ff0000" stroke-width="3.5"/>
<circle cx="170.4" cy="1306.19" r="3.2" fill="none" stroke="#ff0000" stroke-width="3.5"/>
<circle cx="180" cy="1305.2" r="3.2" fill="none" stroke="#ff0000" stroke-width="3.5"/>
<circle cx="189.6" cy="1326.77" r="3.2" fill="none" stroke="#ff0000" stroke-width="3.5"/>
<circle cx="199.2" cy="1312.06" r="3.2" fill="none" stroke="#ff0000" stroke-width="3.5"/>
<circle cx="208.8" cy="1303.22" r="3.2" fill="none" stroke="#ff0000" stroke-width="3.5"/>
<circle cx="218.4" cy="1318.92" r="3.2" fill="none" stroke="#ff0000" stroke-width="3.5"/>
<circle cx="228" cy="1323.79" r="3.2" fill="none" stroke="#ff0000" stroke-width="3.5"/>
<circle cx="237.6" cy="1280.21" r="3.2" fill="none" stroke="#ff0000" stroke-width="3.5"/>
<circle cx="247.2" cy="1340.48" r="3.2" fill="none" stroke="#ff0000" stroke-width="3.5"/>
<circle cx="256.8" cy="1322.88" r="3.2" fill="none" stroke="#ff0000" stroke-width="3.5"/>
<circle cx="266.4" cy="1304.21" r="3.2" fill="none" stroke="#ff0000" stroke-width="3.5"/>
<circle cx="276" cy="1309.09" r="3.2" fill="none" stroke="#ff0000" stroke-width="3.5"/>
<circle cx="285.6" cy="1319.91" r="3.2" fill="none" stroke="#ff0000" stroke-width="3.5"/>
<circle cx="295.2" cy="1352.9" r="3.2" fill="none" stroke="#ff0000" stroke-width="3.5"/>
<circle cx="304.8" cy="1290.11" r="3.2" fill="none" stroke="#ff0000" stroke-width="3.5"/>
<circle cx="314.4" cy="1344.06" r="3.2" fill="none" stroke="#ff0000" stroke-width="3.5"/>
<circle cx="324" cy="1328.67" r="3.2" fill="none" stroke="#ff0000" stroke-width="3.5"/>
<circle cx="333.6" cy="1302.23" r="3.2" fill="none" stroke="#ff0000" stroke-width="3.5"/>
<circle cx="343.2" cy="1317.01" r="3.2" fill="none" stroke="#ff0000" stroke-width="3.5"/>
<circle cx="352.8" cy="1347.04" r="3.2" fill="none" stroke="#ff0000" stroke-width="3.5"/>
<circle cx="362.4" cy="1312.06" r="3.2" fill="none" stroke="#ff0000" stroke-width="3.5"/>
<circle cx="372" cy="1318.31" r="3.2" fill="none" stroke="#ff0000" stroke-width="3.5"/>
<circle cx="381.6" cy="1317.01" r="3.2" fill="none" stroke="#ff0000" stroke-width="3.5"/>
<circle cx="391.2" cy="1366.01" r="3.2" fill="none" stroke="#ff0000" stroke-width="3.5"/>
<circle cx="400.8" cy="1308.48" r="3.2" fill="none" stroke="#ff0000" stroke-width="3.5"/>
<circle cx="410.4" cy="1331.72" r="3.2" fill="none" stroke="#ff0000" stroke-width="3.5"/>
<circle cx="420" cy="1331.49" r="3.2" fill="none" stroke="#ff0000" stroke-width="3.5"/>
<circle cx="429.6" cy="1342.54" r="3.2" fill="none" stroke="#ff0000" stroke-width="3.5"/>
<circle cx="439.2" cy="1274.72" r="3.2" fill="none" stroke="#ff0000" stroke-width="3.5"/>
<circle cx="448.8" cy="1355.72" r="3.2" fill="none" stroke="#ff0000" stroke-width="3.5"/>
<circle cx="458.4" cy="1318.23" r="3.2" fill="none" stroke="#ff0000" stroke-width="3.5"/>
<circle cx="468" cy="1339.19" r="3.2" fill="none" stroke="#ff0000" stroke-width="3.5"/>
<circle cx="477.6" cy="1358.08" r="3.2" fill="none" stroke="#ff0000" stroke-width="3.5"/>
<circle cx="487.2" cy="1310.23" r="3.2" fill="none" stroke="#ff0000" stroke-width="3.5"/>
<circle cx="496.8" cy="1321.81" r="3.2" fill="none" stroke="#ff0000" stroke-width="3.5"/>
<circle cx="506.4" cy="1321.81" r="3.2" fill="none" stroke="#ff0000" stroke-width="3.5"/>
<circle cx="516" cy="1344.83" r="3.2" fill="none" stroke="#ff0000" stroke-width="3.5"/>
<circle cx="525.6" cy="1336.29" r="3.2" fill="none" stroke="#ff0000" stroke-width="3.5"/>
<circle cx="535.2" cy="1328.6" r="3.2" fill="none" stroke="#ff0000" stroke-width="3.5"/>
<circle cx="544.8" cy="1328.06" r="3.2" fill="none" stroke="#ff0000" stroke-width="3.5"/>
<circle cx="554.4" cy="1329.59" r="3.2" fill="none" stroke="#ff0000" stroke-width="3.5"/>
<circle cx="564" cy="1295.22" r="3.2" fill="none" stroke="#ff0000" stroke-width="3.5"/>
<circle cx="573.6" cy="1344.83" r="3.2" fill="none" stroke="#ff0000" stroke-width="3.5"/>
<circle cx="583.2" cy="1339.19" r="3.2" fill="none" stroke="#ff0000" stroke-width="3.5"/>
<circle cx="592.8" cy="1304.9" r="3.2" fill="none" stroke="#ff0000" stroke-width="3.5"/>
<circle cx="602.4" cy="1357.63" r="3.2" fill="none" stroke="#ff0000" stroke-width="3.5"/>
<polyline points="91.68,1300.53 95.52,1300.48 99.36,1300.35 103.2,1300.14 107.04,1299.86 110.88,1299.51 114.72,1299.09 118.56,1298.6 122.4,1298.04 126.24,1297.42 130.08,1296.74 133.92,1295.99 137.76,1295.19 141.6,1294.33 145.44,1293.41 149.28,1292.43 153.12,1291.41 156.96,1290.33 160.8,1289.21 164.64,1288.04 168.48,1286.82 172.32,1285.56 176.16,1284.26 180,1282.91 183.84,1281.53 187.68,1280.11 191.52,1278.66 195.36,1277.18 199.2,1275.66 203.04,1274.12 206.88,1272.54 210.72,1270.94 214.56,1269.32 218.4,1267.67 222.24,1266.01 226.08,1264.32 229.92,1262.62 233.76,1260.9 237.6,1259.17 241.44,1257.43 245.28,1255.68 249.12,1253.92 252.96,1252.15 256.8,1250.38 260.64,1248.61 264.48,1246.83 268.32,1245.06 272.16,1243.28 276,1241.52 279.84,1239.76 283.68,1238 287.52,1236.26 291.36,1234.52 295.2,1232.8 299.04,1231.1 302.88,1229.41 306.72,1227.74 310.56,1226.09 314.4,1224.46 318.24,1222.86 322.08,1221.28 325.92,1219.73 329.76,1218.21 333.6,1216.71 337.44,1215.25 341.28,1213.83 345.12,1212.44 348.96,1211.09 352.8,1209.78 356.64,1208.51 360.48,1207.28 364.32,1206.1 368.16,1204.97 372,1203.88 375.84,1202.85 379.68,1201.86 383.52,1200.93 387.36,1200.06 391.2,1199.24 395.04,1198.48 398.88,1197.79 402.72,1197.15 406.56,1196.58 410.4,1196.08 414.24,1195.64 418.08,1195.28 421.92,1194.98 425.76,1194.76 429.6,1194.62 433.44,1194.55 437.28,1194.56 441.12,1194.65 444.96,1194.82 448.8,1195.08 452.64,1195.42 456.48,1195.85 460.32,1196.37 464.16,1196.97 468,1197.68 471.84,1198.47 475.68,1199.37 479.52,1200.36 483.36,1201.45 487.2,1202.64 491.04,1203.94 494.88,1205.34 498.72,1206.85 502.56,1208.47 506.4,1210.19 510.24,1212.03 514.08,1213.99 517.92,1216.06 521.76,1218.25 525.6,1220.55 529.44,1222.98 533.28,1225.53 537.12,1228.21 540.96,1231.01 544.8,1233.94 548.64,1237 552.48,1240.19 556.32,1243.52 560.16,1246.98 564,1250.58 567.84,1254.31 571.68,1258.19 575.52,1262.21 579.36,1266.37 583.2,1270.68 587.04,1275.14 590.88,1279.75 594.72,1284.51 598.56,1289.42 602.4,1294.48 603.36,1295.77" fill="none" stroke="#0000ff" stroke-width="3.7" stroke-linejoin="round" stroke-linecap="round"/>
<polyline points="91.68,1313.37 95.52,1313.22 99.36,1313.08 103.2,1312.95 107.04,1312.84 110.88,1312.75 114.72,1312.66 118.56,1312.6 122.4,1312.55 126.24,1312.51 130.08,1312.48 133.92,1312.47 137.76,1312.47 141.6,1312.48 145.44,1312.51 149.28,1312.55 153.12,1312.6 156.96,1312.66 160.8,1312.73 164.64,1312.81 168.48,1312.9 172.32,1313.01 176.16,1313.12 180,1313.25 183.84,1313.38 187.68,1313.52 191.52,1313.67 195.36,1313.83 199.2,1314 203.04,1314.18 206.88,1314.36 210.72,1314.55 214.56,1314.75 218.4,1314.96 222.24,1315.17 226.08,1315.39 229.92,1315.62 233.76,1315.85 237.6,1316.09 241.44,1316.33 245.28,1316.58 249.12,1316.83 252.96,1317.09 256.8,1317.35 260.64,1317.61 264.48,1317.88 268.32,1318.16 272.16,1318.43 276,1318.71 279.84,1318.99 283.68,1319.28 287.52,1319.56 291.36,1319.85 295.2,1320.14 299.04,1320.43 302.88,1320.72 306.72,1321.01 310.56,1321.3 314.4,1321.59 318.24,1321.89 322.08,1322.18 325.92,1322.47 329.76,1322.76 333.6,1323.05 337.44,1323.34 341.28,1323.62 345.12,1323.9 348.96,1324.18 352.8,1324.46 356.64,1324.74 360.48,1325.01 364.32,1325.28 368.16,1325.54 372,1325.8 375.84,1326.06 379.68,1326.31 383.52,1326.56 387.36,1326.8 391.2,1327.04 395.04,1327.27 398.88,1327.49 402.72,1327.71 406.56,1327.93 410.4,1328.13 414.24,1328.33 418.08,1328.52 421.92,1328.7 425.76,1328.88 429.6,1329.05 433.44,1329.2 437.28,1329.35 441.12,1329.49 444.96,1329.63 448.8,1329.75 452.64,1329.86 456.48,1329.96 460.32,1330.05 464.16,1330.14 468,1330.21 471.84,1330.26 475.68,1330.31 479.52,1330.35 483.36,1330.37 487.2,1330.38 491.04,1330.38 494.88,1330.37 498.72,1330.34 502.56,1330.3 506.4,1330.24 510.24,1330.17 514.08,1330.09 517.92,1329.99 521.76,1329.88 525.6,1329.75 529.44,1329.61 533.28,1329.45 537.12,1329.28 540.96,1329.09 544.8,1328.88 548.64,1328.66 552.48,1328.42 556.32,1328.16 560.16,1327.88 564,1327.59 567.84,1327.28 571.68,1326.95 575.52,1326.6 579.36,1326.23 583.2,1325.84 587.04,1325.44 590.88,1325.01 594.72,1324.57 598.56,1324.1 602.4,1323.61 603.36,1323.49" fill="none" stroke="#ff0000" stroke-width="3.7" stroke-linejoin="round" stroke-linecap="round"/>
<text font-size="29" x="82.9" y="1055.8" style="font-family:'DejaVu Sans',sans-serif;font-weight:200">&#215;</text>
<text font-size="30" x="105.3" y="1053.9">10</text>
<text font-size="23" x="139.3" y="1039.5">-3</text>
<path d="M821.6 1443V1437.5M821.6 1069V1074.5M925.2 1443V1437.5M925.2 1069V1074.5M1028.8 1443V1437.5M1028.8 1069V1074.5M1132.4 1443V1437.5M1132.4 1069V1074.5M718 1368.2H723.5M1236 1368.2H1230.5M718 1293.4H723.5M1236 1293.4H1230.5M718 1218.6H723.5M1236 1218.6H1230.5M718 1143.8H723.5M1236 1143.8H1230.5" stroke="#262626" stroke-width="1" fill="none"/>
<rect x="718" y="1069" width="518" height="374" fill="none" stroke="#262626" stroke-width="1"/>
<g font-size="29.4">
<text x="718" y="1480" text-anchor="middle">0</text>
<text x="821.6" y="1480" text-anchor="middle">100</text>
<text x="925.2" y="1480" text-anchor="middle">200</text>
<text x="1028.8" y="1480" text-anchor="middle">300</text>
<text x="1132.4" y="1480" text-anchor="middle">400</text>
<text x="1236" y="1480" text-anchor="middle">500</text>
<text x="709.5" y="1453.58" text-anchor="end">-5</text>
<text x="709.5" y="1378.78" text-anchor="end">0</text>
<text x="709.5" y="1303.98" text-anchor="end">5</text>
<text x="709.5" y="1229.18" text-anchor="end">10</text>
<text x="709.5" y="1154.38" text-anchor="end">15</text>
<text x="709.5" y="1079.58" text-anchor="end">20</text>
</g>
<text x="977" y="1519.3" font-size="32.2" text-anchor="middle">temperature (K)</text>
<text x="665.7" y="1256" font-size="32.2" text-anchor="middle" transform="rotate(-90 665.7 1256)">bond length increase (&#197;/K)</text>
<line x1="718" y1="1368.2" x2="1236" y2="1368.2" stroke="#262626" stroke-width="1"/>
<polyline points="743.9,1331.4 769.8,1330.65 795.7,1309.56 821.6,1363.71 826.78,1346.96 831.96,1328.41 837.14,1291.01 842.32,1323.77 847.5,1210.67 852.68,1189.28 857.86,1108.05 863.04,1268.27 868.22,1236.25 873.4,1204.24 878.58,1279.04 883.76,1276.64 888.94,1349.95 894.12,1312.55 899.3,1362.07 904.48,1348.75 909.66,1336.04 914.84,1342.92 920.02,1372.24 925.2,1337.83 930.38,1362.66 935.56,1353.99 940.74,1359.82 945.92,1355.63 951.1,1327.96 977,1296.84 1028.8,1262.73 1132.4,1265.13" fill="none" stroke="#0000ff" stroke-width="3.7" stroke-linejoin="round" stroke-linecap="butt" stroke-dasharray="3.9 2.7"/>
<circle cx="743.9" cy="1331.4" r="3.2" fill="none" stroke="#0000ff" stroke-width="3.5"/>
<circle cx="769.8" cy="1330.65" r="3.2" fill="none" stroke="#0000ff" stroke-width="3.5"/>
<circle cx="795.7" cy="1309.56" r="3.2" fill="none" stroke="#0000ff" stroke-width="3.5"/>
<circle cx="821.6" cy="1363.71" r="3.2" fill="none" stroke="#0000ff" stroke-width="3.5"/>
<circle cx="826.78" cy="1346.96" r="3.2" fill="none" stroke="#0000ff" stroke-width="3.5"/>
<circle cx="831.96" cy="1328.41" r="3.2" fill="none" stroke="#0000ff" stroke-width="3.5"/>
<circle cx="837.14" cy="1291.01" r="3.2" fill="none" stroke="#0000ff" stroke-width="3.5"/>
<circle cx="842.32" cy="1323.77" r="3.2" fill="none" stroke="#0000ff" stroke-width="3.5"/>
<circle cx="847.5" cy="1210.67" r="3.2" fill="none" stroke="#0000ff" stroke-width="3.5"/>
<circle cx="852.68" cy="1189.28" r="3.2" fill="none" stroke="#0000ff" stroke-width="3.5"/>
<circle cx="857.86" cy="1108.05" r="3.2" fill="none" stroke="#0000ff" stroke-width="3.5"/>
<circle cx="863.04" cy="1268.27" r="3.2" fill="none" stroke="#0000ff" stroke-width="3.5"/>
<circle cx="868.22" cy="1236.25" r="3.2" fill="none" stroke="#0000ff" stroke-width="3.5"/>
<circle cx="873.4" cy="1204.24" r="3.2" fill="none" stroke="#0000ff" stroke-width="3.5"/>
<circle cx="878.58" cy="1279.04" r="3.2" fill="none" stroke="#0000ff" stroke-width="3.5"/>
<circle cx="883.76" cy="1276.64" r="3.2" fill="none" stroke="#0000ff" stroke-width="3.5"/>
<circle cx="888.94" cy="1349.95" r="3.2" fill="none" stroke="#0000ff" stroke-width="3.5"/>
<circle cx="894.12" cy="1312.55" r="3.2" fill="none" stroke="#0000ff" stroke-width="3.5"/>
<circle cx="899.3" cy="1362.07" r="3.2" fill="none" stroke="#0000ff" stroke-width="3.5"/>
<circle cx="904.48" cy="1348.75" r="3.2" fill="none" stroke="#0000ff" stroke-width="3.5"/>
<circle cx="909.66" cy="1336.04" r="3.2" fill="none" stroke="#0000ff" stroke-width="3.5"/>
<circle cx="914.84" cy="1342.92" r="3.2" fill="none" stroke="#0000ff" stroke-width="3.5"/>
<circle cx="920.02" cy="1372.24" r="3.2" fill="none" stroke="#0000ff" stroke-width="3.5"/>
<circle cx="925.2" cy="1337.83" r="3.2" fill="none" stroke="#0000ff" stroke-width="3.5"/>
<circle cx="930.38" cy="1362.66" r="3.2" fill="none" stroke="#0000ff" stroke-width="3.5"/>
<circle cx="935.56" cy="1353.99" r="3.2" fill="none" stroke="#0000ff" stroke-width="3.5"/>
<circle cx="940.74" cy="1359.82" r="3.2" fill="none" stroke="#0000ff" stroke-width="3.5"/>
<circle cx="945.92" cy="1355.63" r="3.2" fill="none" stroke="#0000ff" stroke-width="3.5"/>
<circle cx="951.1" cy="1327.96" r="3.2" fill="none" stroke="#0000ff" stroke-width="3.5"/>
<circle cx="977" cy="1296.84" r="3.2" fill="none" stroke="#0000ff" stroke-width="3.5"/>
<circle cx="1028.8" cy="1262.73" r="3.2" fill="none" stroke="#0000ff" stroke-width="3.5"/>
<circle cx="1132.4" cy="1265.13" r="3.2" fill="none" stroke="#0000ff" stroke-width="3.5"/>
<polyline points="743.9,1341.87 769.8,1343.07 795.7,1346.06 821.6,1364.46 826.78,1365.21 831.96,1365.21 837.14,1370.74 842.32,1367 847.5,1379.87 852.68,1379.27 857.86,1392.14 863.04,1374.63 868.22,1377.62 873.4,1379.87 878.58,1372.24 883.76,1373.74 888.94,1364.46 894.12,1371.49 899.3,1362.07 904.48,1363.71 909.66,1371.49 914.84,1365.21 920.02,1360.42 925.2,1370.74 930.38,1358.63 935.56,1367 940.74,1366.4 945.92,1364.46 951.1,1346.36 977,1322.27 1028.8,1274.85 1132.4,1278.29" fill="none" stroke="#ff0000" stroke-width="3.7" stroke-linejoin="round" stroke-linecap="butt" stroke-dasharray="3.9 2.7"/>
<circle cx="743.9" cy="1341.87" r="3.2" fill="none" stroke="#ff0000" stroke-width="3.5"/>
<circle cx="769.8" cy="1343.07" r="3.2" fill="none" stroke="#ff0000" stroke-width="3.5"/>
<circle cx="795.7" cy="1346.06" r="3.2" fill="none" stroke="#ff0000" stroke-width="3.5"/>
<circle cx="821.6" cy="1364.46" r="3.2" fill="none" stroke="#ff0000" stroke-width="3.5"/>
<circle cx="826.78" cy="1365.21" r="3.2" fill="none" stroke="#ff0000" stroke-width="3.5"/>
<circle cx="831.96" cy="1365.21" r="3.2" fill="none" stroke="#ff0000" stroke-width="3.5"/>
<circle cx="837.14" cy="1370.74" r="3.2" fill="none" stroke="#ff0000" stroke-width="3.5"/>
<circle cx="842.32" cy="1367" r="3.2" fill="none" stroke="#ff0000" stroke-width="3.5"/>
<circle cx="847.5" cy="1379.87" r="3.2" fill="none" stroke="#ff0000" stroke-width="3.5"/>
<circle cx="852.68" cy="1379.27" r="3.2" fill="none" stroke="#ff0000" stroke-width="3.5"/>
<circle cx="857.86" cy="1392.14" r="3.2" fill="none" stroke="#ff0000" stroke-width="3.5"/>
<circle cx="863.04" cy="1374.63" r="3.2" fill="none" stroke="#ff0000" stroke-width="3.5"/>
<circle cx="868.22" cy="1377.62" r="3.2" fill="none" stroke="#ff0000" stroke-width="3.5"/>
<circle cx="873.4" cy="1379.87" r="3.2" fill="none" stroke="#ff0000" stroke-width="3.5"/>
<circle cx="878.58" cy="1372.24" r="3.2" fill="none" stroke="#ff0000" stroke-width="3.5"/>
<circle cx="883.76" cy="1373.74" r="3.2" fill="none" stroke="#ff0000" stroke-width="3.5"/>
<circle cx="888.94" cy="1364.46" r="3.2" fill="none" stroke="#ff0000" stroke-width="3.5"/>
<circle cx="894.12" cy="1371.49" r="3.2" fill="none" stroke="#ff0000" stroke-width="3.5"/>
<circle cx="899.3" cy="1362.07" r="3.2" fill="none" stroke="#ff0000" stroke-width="3.5"/>
<circle cx="904.48" cy="1363.71" r="3.2" fill="none" stroke="#ff0000" stroke-width="3.5"/>
<circle cx="909.66" cy="1371.49" r="3.2" fill="none" stroke="#ff0000" stroke-width="3.5"/>
<circle cx="914.84" cy="1365.21" r="3.2" fill="none" stroke="#ff0000" stroke-width="3.5"/>
<circle cx="920.02" cy="1360.42" r="3.2" fill="none" stroke="#ff0000" stroke-width="3.5"/>
<circle cx="925.2" cy="1370.74" r="3.2" fill="none" stroke="#ff0000" stroke-width="3.5"/>
<circle cx="930.38" cy="1358.63" r="3.2" fill="none" stroke="#ff0000" stroke-width="3.5"/>
<circle cx="935.56" cy="1367" r="3.2" fill="none" stroke="#ff0000" stroke-width="3.5"/>
<circle cx="940.74" cy="1366.4" r="3.2" fill="none" stroke="#ff0000" stroke-width="3.5"/>
<circle cx="945.92" cy="1364.46" r="3.2" fill="none" stroke="#ff0000" stroke-width="3.5"/>
<circle cx="951.1" cy="1346.36" r="3.2" fill="none" stroke="#ff0000" stroke-width="3.5"/>
<circle cx="977" cy="1322.27" r="3.2" fill="none" stroke="#ff0000" stroke-width="3.5"/>
<circle cx="1028.8" cy="1274.85" r="3.2" fill="none" stroke="#ff0000" stroke-width="3.5"/>
<circle cx="1132.4" cy="1278.29" r="3.2" fill="none" stroke="#ff0000" stroke-width="3.5"/>
<text font-size="29" x="716.9" y="1063.9" style="font-family:'DejaVu Sans',sans-serif;font-weight:200">&#215;</text>
<text font-size="30" x="738.2" y="1062.5">10</text>
<text font-size="23" x="772.2" y="1048.2">-3</text>
<path d="M1463.72 1443.4V1437.9M1463.72 1065V1070.5M1544.83 1443.4V1437.9M1544.83 1065V1070.5M1625.95 1443.4V1437.9M1625.95 1065V1070.5M1707.07 1443.4V1437.9M1707.07 1065V1070.5M1788.18 1443.4V1437.9M1788.18 1065V1070.5M1382.6 1367.72H1388.1M1869.3 1367.72H1863.8M1382.6 1292.04H1388.1M1869.3 1292.04H1863.8M1382.6 1216.36H1388.1M1869.3 1216.36H1863.8M1382.6 1140.68H1388.1M1869.3 1140.68H1863.8" stroke="#262626" stroke-width="1" fill="none"/>
<rect x="1382.6" y="1065" width="486.7" height="378.4" fill="none" stroke="#262626" stroke-width="1"/>
<g font-size="29.4">
<text x="1382.6" y="1480.4" text-anchor="middle">0</text>
<text x="1463.72" y="1480.4" text-anchor="middle">50</text>
<text x="1544.83" y="1480.4" text-anchor="middle">100</text>
<text x="1625.95" y="1480.4" text-anchor="middle">150</text>
<text x="1707.07" y="1480.4" text-anchor="middle">200</text>
<text x="1788.18" y="1480.4" text-anchor="middle">250</text>
<text x="1869.3" y="1480.4" text-anchor="middle">300</text>
<text x="1374.1" y="1453.98" text-anchor="end">-0.01</text>
<text x="1374.1" y="1378.3" text-anchor="end">0</text>
<text x="1374.1" y="1302.62" text-anchor="end">0.01</text>
<text x="1374.1" y="1226.94" text-anchor="end">0.02</text>
<text x="1374.1" y="1151.26" text-anchor="end">0.03</text>
<text x="1374.1" y="1075.58" text-anchor="end">0.04</text>
</g>
<text x="1625.95" y="1519.3" font-size="32.2" text-anchor="middle">temperature (K)</text>
<text x="1299.3" y="1254.2" font-size="32.2" text-anchor="middle" transform="rotate(-90 1299.3 1254.2)">bond length increase (&#197;/K)</text>
<line x1="1382.6" y1="1367.72" x2="1869.3" y2="1367.72" stroke="#262626" stroke-width="1"/>
<polyline points="1398.82,1359.02 1415.05,1358.64 1431.27,1358.64 1447.49,1365.45 1453.98,1349.94 1457.23,1326.1 1460.47,1111.16 1463.72,1195.17 1466.96,1252.69 1470.21,1288.26 1473.45,1354.85 1476.7,1324.58 1479.94,1348.04 1483.18,1368.48 1486.43,1366.96 1489.67,1365.45 1492.92,1363.94 1496.16,1356.37 1512.39,1364.69 1528.61,1362.42 1544.83,1363.94 1561.06,1362.42 1577.28,1367.72 1593.5,1361.67 1609.73,1362.42 1625.95,1345.77 1707.07,1344.26 1788.18,1345.02 1869.3,1318.53" fill="none" stroke="#0000ff" stroke-width="3.7" stroke-linejoin="round" stroke-linecap="butt" stroke-dasharray="3.9 2.7"/>
<circle cx="1398.82" cy="1359.02" r="3.2" fill="none" stroke="#0000ff" stroke-width="3.5"/>
<circle cx="1415.05" cy="1358.64" r="3.2" fill="none" stroke="#0000ff" stroke-width="3.5"/>
<circle cx="1431.27" cy="1358.64" r="3.2" fill="none" stroke="#0000ff" stroke-width="3.5"/>
<circle cx="1447.49" cy="1365.45" r="3.2" fill="none" stroke="#0000ff" stroke-width="3.5"/>
<circle cx="1453.98" cy="1349.94" r="3.2" fill="none" stroke="#0000ff" stroke-width="3.5"/>
<circle cx="1457.23" cy="1326.1" r="3.2" fill="none" stroke="#0000ff" stroke-width="3.5"/>
<circle cx="1460.47" cy="1111.16" r="3.2" fill="none" stroke="#0000ff" stroke-width="3.5"/>
<circle cx="1463.72" cy="1195.17" r="3.2" fill="none" stroke="#0000ff" stroke-width="3.5"/>
<circle cx="1466.96" cy="1252.69" r="3.2" fill="none" stroke="#0000ff" stroke-width="3.5"/>
<circle cx="1470.21" cy="1288.26" r="3.2" fill="none" stroke="#0000ff" stroke-width="3.5"/>
<circle cx="1473.45" cy="1354.85" r="3.2" fill="none" stroke="#0000ff" stroke-width="3.5"/>
<circle cx="1476.7" cy="1324.58" r="3.2" fill="none" stroke="#0000ff" stroke-width="3.5"/>
<circle cx="1479.94" cy="1348.04" r="3.2" fill="none" stroke="#0000ff" stroke-width="3.5"/>
<circle cx="1483.18" cy="1368.48" r="3.2" fill="none" stroke="#0000ff" stroke-width="3.5"/>
<circle cx="1486.43" cy="1366.96" r="3.2" fill="none" stroke="#0000ff" stroke-width="3.5"/>
<circle cx="1489.67" cy="1365.45" r="3.2" fill="none" stroke="#0000ff" stroke-width="3.5"/>
<circle cx="1492.92" cy="1363.94" r="3.2" fill="none" stroke="#0000ff" stroke-width="3.5"/>
<circle cx="1496.16" cy="1356.37" r="3.2" fill="none" stroke="#0000ff" stroke-width="3.5"/>
<circle cx="1512.39" cy="1364.69" r="3.2" fill="none" stroke="#0000ff" stroke-width="3.5"/>
<circle cx="1528.61" cy="1362.42" r="3.2" fill="none" stroke="#0000ff" stroke-width="3.5"/>
<circle cx="1544.83" cy="1363.94" r="3.2" fill="none" stroke="#0000ff" stroke-width="3.5"/>
<circle cx="1561.06" cy="1362.42" r="3.2" fill="none" stroke="#0000ff" stroke-width="3.5"/>
<circle cx="1577.28" cy="1367.72" r="3.2" fill="none" stroke="#0000ff" stroke-width="3.5"/>
<circle cx="1593.5" cy="1361.67" r="3.2" fill="none" stroke="#0000ff" stroke-width="3.5"/>
<circle cx="1609.73" cy="1362.42" r="3.2" fill="none" stroke="#0000ff" stroke-width="3.5"/>
<circle cx="1625.95" cy="1345.77" r="3.2" fill="none" stroke="#0000ff" stroke-width="3.5"/>
<circle cx="1707.07" cy="1344.26" r="3.2" fill="none" stroke="#0000ff" stroke-width="3.5"/>
<circle cx="1788.18" cy="1345.02" r="3.2" fill="none" stroke="#0000ff" stroke-width="3.5"/>
<circle cx="1869.3" cy="1318.53" r="3.2" fill="none" stroke="#0000ff" stroke-width="3.5"/>
<polyline points="1398.82,1363.18 1415.05,1363.18 1431.27,1363.94 1447.49,1366.96 1450.74,1368.48 1453.98,1369.23 1457.23,1373.77 1460.47,1399.51 1463.72,1389.67 1466.96,1382.86 1470.21,1377.56 1473.45,1372.26 1476.7,1375.29 1479.94,1366.96 1483.18,1366.21 1486.43,1365.45 1489.67,1366.21 1492.92,1364.69 1496.16,1363.18 1512.39,1367.72 1528.61,1361.67 1544.83,1363.94 1561.06,1362.42 1577.28,1363.94 1593.5,1362.42 1609.73,1364.69 1625.95,1343.5 1707.07,1344.26 1788.18,1341.23 1869.3,1318.53" fill="none" stroke="#ff0000" stroke-width="3.7" stroke-linejoin="round" stroke-linecap="butt" stroke-dasharray="3.9 2.7"/>
<circle cx="1398.82" cy="1363.18" r="3.2" fill="none" stroke="#ff0000" stroke-width="3.5"/>
<circle cx="1415.05" cy="1363.18" r="3.2" fill="none" stroke="#ff0000" stroke-width="3.5"/>
<circle cx="1431.27" cy="1363.94" r="3.2" fill="none" stroke="#ff0000" stroke-width="3.5"/>
<circle cx="1447.49" cy="1366.96" r="3.2" fill="none" stroke="#ff0000" stroke-width="3.5"/>
<circle cx="1450.74" cy="1368.48" r="3.2" fill="none" stroke="#ff0000" stroke-width="3.5"/>
<circle cx="1453.98" cy="1369.23" r="3.2" fill="none" stroke="#ff0000" stroke-width="3.5"/>
<circle cx="1457.23" cy="1373.77" r="3.2" fill="none" stroke="#ff0000" stroke-width="3.5"/>
<circle cx="1460.47" cy="1399.51" r="3.2" fill="none" stroke="#ff0000" stroke-width="3.5"/>
<circle cx="1463.72" cy="1389.67" r="3.2" fill="none" stroke="#ff0000" stroke-width="3.5"/>
<circle cx="1466.96" cy="1382.86" r="3.2" fill="none" stroke="#ff0000" stroke-width="3.5"/>
<circle cx="1470.21" cy="1377.56" r="3.2" fill="none" stroke="#ff0000" stroke-width="3.5"/>
<circle cx="1473.45" cy="1372.26" r="3.2" fill="none" stroke="#ff0000" stroke-width="3.5"/>
<circle cx="1476.7" cy="1375.29" r="3.2" fill="none" stroke="#ff0000" stroke-width="3.5"/>
<circle cx="1479.94" cy="1366.96" r="3.2" fill="none" stroke="#ff0000" stroke-width="3.5"/>
<circle cx="1483.18" cy="1366.21" r="3.2" fill="none" stroke="#ff0000" stroke-width="3.5"/>
<circle cx="1486.43" cy="1365.45" r="3.2" fill="none" stroke="#ff0000" stroke-width="3.5"/>
<circle cx="1489.67" cy="1366.21" r="3.2" fill="none" stroke="#ff0000" stroke-width="3.5"/>
<circle cx="1492.92" cy="1364.69" r="3.2" fill="none" stroke="#ff0000" stroke-width="3.5"/>
<circle cx="1496.16" cy="1363.18" r="3.2" fill="none" stroke="#ff0000" stroke-width="3.5"/>
<circle cx="1512.39" cy="1367.72" r="3.2" fill="none" stroke="#ff0000" stroke-width="3.5"/>
<circle cx="1528.61" cy="1361.67" r="3.2" fill="none" stroke="#ff0000" stroke-width="3.5"/>
<circle cx="1544.83" cy="1363.94" r="3.2" fill="none" stroke="#ff0000" stroke-width="3.5"/>
<circle cx="1561.06" cy="1362.42" r="3.2" fill="none" stroke="#ff0000" stroke-width="3.5"/>
<circle cx="1577.28" cy="1363.94" r="3.2" fill="none" stroke="#ff0000" stroke-width="3.5"/>
<circle cx="1593.5" cy="1362.42" r="3.2" fill="none" stroke="#ff0000" stroke-width="3.5"/>
<circle cx="1609.73" cy="1364.69" r="3.2" fill="none" stroke="#ff0000" stroke-width="3.5"/>
<circle cx="1625.95" cy="1343.5" r="3.2" fill="none" stroke="#ff0000" stroke-width="3.5"/>
<circle cx="1707.07" cy="1344.26" r="3.2" fill="none" stroke="#ff0000" stroke-width="3.5"/>
<circle cx="1788.18" cy="1341.23" r="3.2" fill="none" stroke="#ff0000" stroke-width="3.5"/>
<circle cx="1869.3" cy="1318.53" r="3.2" fill="none" stroke="#ff0000" stroke-width="3.5"/>
</svg></body></html>
